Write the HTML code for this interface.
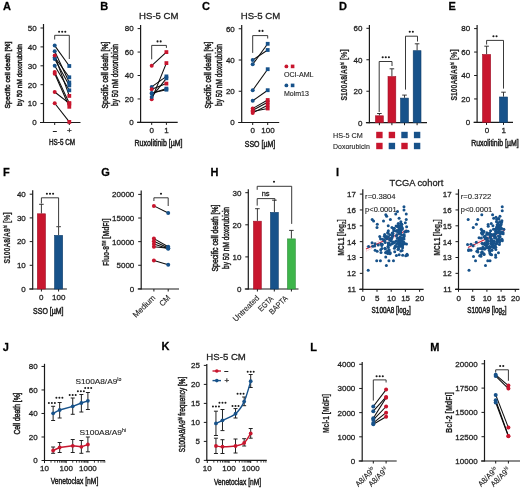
<!DOCTYPE html>
<html><head><meta charset="utf-8"><style>
html,body{margin:0;padding:0;background:#fff;}
svg{display:block;will-change:transform;}
text{stroke:#222;stroke-width:0.28px;paint-order:stroke;}
.h{stroke-width:0.5px;}
.s{stroke-width:0.15px;}
.r{stroke-width:0.12px;}
.b{stroke-width:0.2px;}
svg{font-family:"Liberation Sans",sans-serif;}
</style></head><body>
<svg width="520" height="490" viewBox="0 0 520 490">
<rect width="520" height="490" fill="#fff"/>
<text x="3.00" y="9.70" font-size="11" font-weight="bold" fill="#000" >A</text>
<line x1="43.50" y1="24.00" x2="43.50" y2="123.00" stroke="#1a1a1a" stroke-width="1.2" />
<line x1="40.50" y1="122.50" x2="43.50" y2="122.50" stroke="#1a1a1a" stroke-width="1.0" />
<text x="36.60" y="125.38" font-size="8" text-anchor="end" fill="#222" >0</text>
<line x1="40.50" y1="103.60" x2="43.50" y2="103.60" stroke="#1a1a1a" stroke-width="1.0" />
<text x="36.60" y="106.48" font-size="8" text-anchor="end" fill="#222" >10</text>
<line x1="40.50" y1="84.70" x2="43.50" y2="84.70" stroke="#1a1a1a" stroke-width="1.0" />
<text x="36.60" y="87.58" font-size="8" text-anchor="end" fill="#222" >20</text>
<line x1="40.50" y1="65.80" x2="43.50" y2="65.80" stroke="#1a1a1a" stroke-width="1.0" />
<text x="36.60" y="68.68" font-size="8" text-anchor="end" fill="#222" >30</text>
<line x1="40.50" y1="46.90" x2="43.50" y2="46.90" stroke="#1a1a1a" stroke-width="1.0" />
<text x="36.60" y="49.78" font-size="8" text-anchor="end" fill="#222" >40</text>
<line x1="40.50" y1="28.00" x2="43.50" y2="28.00" stroke="#1a1a1a" stroke-width="1.0" />
<text x="36.60" y="30.88" font-size="8" text-anchor="end" fill="#222" >50</text>
<line x1="40.00" y1="122.50" x2="80.50" y2="122.50" stroke="#1a1a1a" stroke-width="1.2" />
<line x1="54.70" y1="122.50" x2="54.70" y2="125.00" stroke="#1a1a1a" stroke-width="1.0" />
<line x1="69.30" y1="122.50" x2="69.30" y2="125.00" stroke="#1a1a1a" stroke-width="1.0" />
<text x="54.70" y="132.89" font-size="6.5" text-anchor="middle" fill="#222" >–</text>
<text x="69.30" y="133.28" font-size="8" text-anchor="middle" fill="#222" >+</text>
<text x="62.00" y="144.94" font-size="9" text-anchor="middle" textLength="26" lengthAdjust="spacingAndGlyphs" fill="#222"  class="h">HS-5 CM</text>
<text transform="translate(10.35,75.00) rotate(-90)" font-size="8" text-anchor="middle" textLength="67" lengthAdjust="spacingAndGlyphs" fill="#222"  class="h">Specific cell death [%]</text>
<text transform="translate(21.80,75.00) rotate(-90)" font-size="8" text-anchor="middle" textLength="62" lengthAdjust="spacingAndGlyphs" fill="#222"  class="h">by 50 nM doxorubicin</text>
<polyline points="54.70,39.50 54.70,35.30 69.30,35.30 69.30,59.00" fill="none" stroke="#222" stroke-width="0.9" />
<circle cx="59.10" cy="31.80" r="1.05" fill="#1a1a1a"/>
<circle cx="62.20" cy="31.80" r="1.05" fill="#1a1a1a"/>
<circle cx="65.30" cy="31.80" r="1.05" fill="#1a1a1a"/>
<line x1="54.70" y1="45.60" x2="69.30" y2="66.00" stroke="#0a0a0a" stroke-width="1.05" />
<line x1="54.70" y1="51.30" x2="69.30" y2="82.50" stroke="#0a0a0a" stroke-width="1.05" />
<line x1="54.70" y1="59.10" x2="69.30" y2="85.40" stroke="#0a0a0a" stroke-width="1.05" />
<line x1="54.70" y1="65.70" x2="69.30" y2="90.30" stroke="#0a0a0a" stroke-width="1.05" />
<line x1="54.70" y1="57.30" x2="69.30" y2="77.30" stroke="#0a0a0a" stroke-width="1.05" />
<line x1="54.70" y1="55.60" x2="69.30" y2="95.90" stroke="#0a0a0a" stroke-width="1.05" />
<line x1="54.70" y1="72.10" x2="69.30" y2="103.30" stroke="#0a0a0a" stroke-width="1.05" />
<line x1="54.70" y1="73.80" x2="69.30" y2="106.80" stroke="#0a0a0a" stroke-width="1.05" />
<line x1="54.70" y1="92.00" x2="69.30" y2="103.30" stroke="#0a0a0a" stroke-width="1.05" />
<line x1="54.70" y1="103.30" x2="69.30" y2="121.90" stroke="#0a0a0a" stroke-width="1.05" />
<circle cx="54.70" cy="45.60" r="2.0" fill="#17528a"/>
<rect x="67.40" y="64.10" width="3.80" height="3.80" fill="#17528a" stroke="none" stroke-width="0"/>
<circle cx="54.70" cy="51.30" r="2.0" fill="#17528a"/>
<rect x="67.40" y="80.60" width="3.80" height="3.80" fill="#17528a" stroke="none" stroke-width="0"/>
<circle cx="54.70" cy="59.10" r="2.0" fill="#17528a"/>
<rect x="67.40" y="83.50" width="3.80" height="3.80" fill="#17528a" stroke="none" stroke-width="0"/>
<circle cx="54.70" cy="65.70" r="2.0" fill="#17528a"/>
<rect x="67.40" y="88.40" width="3.80" height="3.80" fill="#17528a" stroke="none" stroke-width="0"/>
<circle cx="54.70" cy="57.30" r="2.0" fill="#17528a"/>
<rect x="67.40" y="75.40" width="3.80" height="3.80" fill="#17528a" stroke="none" stroke-width="0"/>
<circle cx="54.70" cy="55.60" r="2.0" fill="#c8162e"/>
<rect x="67.40" y="94.00" width="3.80" height="3.80" fill="#c8162e" stroke="none" stroke-width="0"/>
<circle cx="54.70" cy="72.10" r="2.0" fill="#c8162e"/>
<rect x="67.40" y="101.40" width="3.80" height="3.80" fill="#c8162e" stroke="none" stroke-width="0"/>
<circle cx="54.70" cy="73.80" r="2.0" fill="#c8162e"/>
<rect x="67.40" y="104.90" width="3.80" height="3.80" fill="#c8162e" stroke="none" stroke-width="0"/>
<circle cx="54.70" cy="92.00" r="2.0" fill="#c8162e"/>
<rect x="67.40" y="101.40" width="3.80" height="3.80" fill="#c8162e" stroke="none" stroke-width="0"/>
<circle cx="54.70" cy="103.30" r="2.0" fill="#c8162e"/>
<rect x="67.40" y="120.00" width="3.80" height="3.80" fill="#c8162e" stroke="none" stroke-width="0"/>
<text x="100.30" y="9.70" font-size="11" font-weight="bold" fill="#000" >B</text>
<text x="158.80" y="19.30" font-size="9.6" text-anchor="middle" fill="#222" >HS-5 CM</text>
<line x1="140.60" y1="25.00" x2="140.60" y2="122.90" stroke="#1a1a1a" stroke-width="1.2" />
<line x1="137.60" y1="122.40" x2="140.60" y2="122.40" stroke="#1a1a1a" stroke-width="1.0" />
<text x="133.70" y="125.28" font-size="8" text-anchor="end" fill="#222" >0</text>
<line x1="137.60" y1="98.95" x2="140.60" y2="98.95" stroke="#1a1a1a" stroke-width="1.0" />
<text x="133.70" y="101.83" font-size="8" text-anchor="end" fill="#222" >20</text>
<line x1="137.60" y1="75.50" x2="140.60" y2="75.50" stroke="#1a1a1a" stroke-width="1.0" />
<text x="133.70" y="78.38" font-size="8" text-anchor="end" fill="#222" >40</text>
<line x1="137.60" y1="52.05" x2="140.60" y2="52.05" stroke="#1a1a1a" stroke-width="1.0" />
<text x="133.70" y="54.93" font-size="8" text-anchor="end" fill="#222" >60</text>
<line x1="137.60" y1="28.60" x2="140.60" y2="28.60" stroke="#1a1a1a" stroke-width="1.0" />
<text x="133.70" y="31.48" font-size="8" text-anchor="end" fill="#222" >80</text>
<line x1="137.10" y1="122.40" x2="177.70" y2="122.40" stroke="#1a1a1a" stroke-width="1.2" />
<line x1="151.70" y1="122.40" x2="151.70" y2="124.90" stroke="#1a1a1a" stroke-width="1.0" />
<line x1="166.40" y1="122.40" x2="166.40" y2="124.90" stroke="#1a1a1a" stroke-width="1.0" />
<text x="151.70" y="133.38" font-size="8" text-anchor="middle" fill="#222" >0</text>
<text x="166.40" y="133.38" font-size="8" text-anchor="middle" fill="#222" >1</text>
<text x="158.50" y="146.04" font-size="9" text-anchor="middle" textLength="48" lengthAdjust="spacingAndGlyphs" fill="#222"  class="h">Ruxolitinib [µM]</text>
<text transform="translate(107.80,75.00) rotate(-90)" font-size="9" text-anchor="middle" textLength="67" lengthAdjust="spacingAndGlyphs" fill="#222"  class="h">Specific cell death [%]</text>
<text transform="translate(118.15,75.00) rotate(-90)" font-size="9" text-anchor="middle" textLength="62" lengthAdjust="spacingAndGlyphs" fill="#222"  class="h">by 50 nM doxorubicin</text>
<polyline points="151.70,59.30 151.70,45.40 166.40,45.40 166.40,47.90" fill="none" stroke="#222" stroke-width="0.9" />
<circle cx="157.55" cy="41.40" r="1.05" fill="#1a1a1a"/>
<circle cx="160.65" cy="41.40" r="1.05" fill="#1a1a1a"/>
<line x1="151.70" y1="65.70" x2="166.40" y2="52.10" stroke="#0a0a0a" stroke-width="1.05" />
<line x1="151.70" y1="99.30" x2="166.40" y2="63.10" stroke="#0a0a0a" stroke-width="1.05" />
<line x1="151.70" y1="86.90" x2="166.40" y2="76.40" stroke="#0a0a0a" stroke-width="1.05" />
<line x1="151.70" y1="89.30" x2="166.40" y2="83.60" stroke="#0a0a0a" stroke-width="1.05" />
<line x1="151.70" y1="93.60" x2="166.40" y2="88.60" stroke="#0a0a0a" stroke-width="1.05" />
<line x1="151.70" y1="96.90" x2="166.40" y2="78.30" stroke="#0a0a0a" stroke-width="1.05" />
<line x1="151.70" y1="93.00" x2="166.40" y2="89.70" stroke="#0a0a0a" stroke-width="1.05" />
<circle cx="151.70" cy="65.70" r="2.0" fill="#c8162e"/>
<rect x="164.50" y="50.20" width="3.80" height="3.80" fill="#c8162e" stroke="none" stroke-width="0"/>
<circle cx="151.70" cy="99.30" r="2.0" fill="#c8162e"/>
<rect x="164.50" y="61.20" width="3.80" height="3.80" fill="#c8162e" stroke="none" stroke-width="0"/>
<circle cx="151.70" cy="86.90" r="2.0" fill="#17528a"/>
<rect x="164.50" y="74.50" width="3.80" height="3.80" fill="#17528a" stroke="none" stroke-width="0"/>
<circle cx="151.70" cy="89.30" r="2.0" fill="#c8162e"/>
<rect x="164.50" y="81.70" width="3.80" height="3.80" fill="#c8162e" stroke="none" stroke-width="0"/>
<circle cx="151.70" cy="93.60" r="2.0" fill="#17528a"/>
<rect x="164.50" y="86.70" width="3.80" height="3.80" fill="#17528a" stroke="none" stroke-width="0"/>
<circle cx="151.70" cy="96.90" r="2.0" fill="#17528a"/>
<rect x="164.50" y="76.40" width="3.80" height="3.80" fill="#17528a" stroke="none" stroke-width="0"/>
<circle cx="151.70" cy="93.00" r="2.0" fill="#17528a"/>
<rect x="164.50" y="87.80" width="3.80" height="3.80" fill="#17528a" stroke="none" stroke-width="0"/>
<text x="202.00" y="9.70" font-size="11" font-weight="bold" fill="#000" >C</text>
<text x="260.50" y="19.30" font-size="9.6" text-anchor="middle" fill="#222" >HS-5 CM</text>
<line x1="241.70" y1="25.00" x2="241.70" y2="123.00" stroke="#1a1a1a" stroke-width="1.2" />
<line x1="238.70" y1="122.50" x2="241.70" y2="122.50" stroke="#1a1a1a" stroke-width="1.0" />
<text x="234.80" y="125.38" font-size="8" text-anchor="end" fill="#222" >0</text>
<line x1="238.70" y1="91.25" x2="241.70" y2="91.25" stroke="#1a1a1a" stroke-width="1.0" />
<text x="234.80" y="94.13" font-size="8" text-anchor="end" fill="#222" >20</text>
<line x1="238.70" y1="60.00" x2="241.70" y2="60.00" stroke="#1a1a1a" stroke-width="1.0" />
<text x="234.80" y="62.88" font-size="8" text-anchor="end" fill="#222" >40</text>
<line x1="238.70" y1="28.75" x2="241.70" y2="28.75" stroke="#1a1a1a" stroke-width="1.0" />
<text x="234.80" y="31.63" font-size="8" text-anchor="end" fill="#222" >60</text>
<line x1="238.20" y1="122.50" x2="279.20" y2="122.50" stroke="#1a1a1a" stroke-width="1.2" />
<line x1="252.70" y1="122.50" x2="252.70" y2="125.00" stroke="#1a1a1a" stroke-width="1.0" />
<line x1="267.70" y1="122.50" x2="267.70" y2="125.00" stroke="#1a1a1a" stroke-width="1.0" />
<text x="252.70" y="133.38" font-size="8" text-anchor="middle" fill="#222" >0</text>
<text x="268.00" y="133.38" font-size="8" text-anchor="middle" fill="#222" >100</text>
<text x="260.00" y="146.54" font-size="9" text-anchor="middle" textLength="30.4" lengthAdjust="spacingAndGlyphs" fill="#222"  class="h">SSO [µM]</text>
<text transform="translate(211.00,75.00) rotate(-90)" font-size="9" text-anchor="middle" textLength="67" lengthAdjust="spacingAndGlyphs" fill="#222"  class="h">Specific cell death [%]</text>
<text transform="translate(222.10,75.00) rotate(-90)" font-size="9" text-anchor="middle" textLength="62" lengthAdjust="spacingAndGlyphs" fill="#222"  class="h">by 50 nM doxorubicin</text>
<polyline points="252.70,52.90 252.70,35.60 267.70,35.60 267.70,38.50" fill="none" stroke="#222" stroke-width="0.9" />
<circle cx="259.45" cy="30.90" r="1.05" fill="#1a1a1a"/>
<circle cx="262.55" cy="30.90" r="1.05" fill="#1a1a1a"/>
<line x1="252.70" y1="60.00" x2="267.70" y2="50.00" stroke="#0a0a0a" stroke-width="1.05" />
<line x1="252.70" y1="64.30" x2="267.70" y2="43.80" stroke="#0a0a0a" stroke-width="1.05" />
<line x1="252.70" y1="90.20" x2="267.70" y2="69.20" stroke="#0a0a0a" stroke-width="1.05" />
<line x1="252.70" y1="100.80" x2="267.70" y2="90.20" stroke="#0a0a0a" stroke-width="1.05" />
<line x1="252.70" y1="108.50" x2="267.70" y2="100.00" stroke="#0a0a0a" stroke-width="1.05" />
<line x1="252.70" y1="110.40" x2="267.70" y2="102.30" stroke="#0a0a0a" stroke-width="1.05" />
<line x1="252.70" y1="112.90" x2="267.70" y2="105.20" stroke="#0a0a0a" stroke-width="1.05" />
<line x1="252.70" y1="111.50" x2="267.70" y2="108.50" stroke="#0a0a0a" stroke-width="1.05" />
<circle cx="252.70" cy="60.00" r="2.0" fill="#17528a"/>
<rect x="265.80" y="48.10" width="3.80" height="3.80" fill="#17528a" stroke="none" stroke-width="0"/>
<circle cx="252.70" cy="64.30" r="2.0" fill="#17528a"/>
<rect x="265.80" y="41.90" width="3.80" height="3.80" fill="#17528a" stroke="none" stroke-width="0"/>
<circle cx="252.70" cy="90.20" r="2.0" fill="#17528a"/>
<rect x="265.80" y="67.30" width="3.80" height="3.80" fill="#17528a" stroke="none" stroke-width="0"/>
<circle cx="252.70" cy="100.80" r="2.0" fill="#17528a"/>
<rect x="265.80" y="88.30" width="3.80" height="3.80" fill="#17528a" stroke="none" stroke-width="0"/>
<circle cx="252.70" cy="108.50" r="2.0" fill="#c8162e"/>
<rect x="265.80" y="98.10" width="3.80" height="3.80" fill="#c8162e" stroke="none" stroke-width="0"/>
<circle cx="252.70" cy="110.40" r="2.0" fill="#c8162e"/>
<rect x="265.80" y="100.40" width="3.80" height="3.80" fill="#c8162e" stroke="none" stroke-width="0"/>
<circle cx="252.70" cy="112.90" r="2.0" fill="#c8162e"/>
<rect x="265.80" y="103.30" width="3.80" height="3.80" fill="#c8162e" stroke="none" stroke-width="0"/>
<circle cx="252.70" cy="111.50" r="2.0" fill="#c8162e"/>
<rect x="265.80" y="106.60" width="3.80" height="3.80" fill="#c8162e" stroke="none" stroke-width="0"/>
<circle cx="286.40" cy="66.40" r="1.9" fill="#c8162e"/>
<rect x="290.80" y="64.60" width="3.60" height="3.60" fill="#c8162e" stroke="none" stroke-width="0"/>
<text x="283.90" y="77.20" font-size="7" textLength="29.7" lengthAdjust="spacingAndGlyphs" fill="#222" class="r">OCI-AML</text>
<circle cx="286.40" cy="85.40" r="1.9" fill="#17528a"/>
<rect x="290.80" y="83.60" width="3.60" height="3.60" fill="#17528a" stroke="none" stroke-width="0"/>
<text x="283.90" y="96.10" font-size="7" textLength="25" lengthAdjust="spacingAndGlyphs" fill="#222" class="r">Molm13</text>
<text x="339.00" y="9.70" font-size="11" font-weight="bold" fill="#000" >D</text>
<line x1="369.40" y1="25.00" x2="369.40" y2="123.20" stroke="#1a1a1a" stroke-width="1.2" />
<line x1="366.40" y1="122.70" x2="369.40" y2="122.70" stroke="#1a1a1a" stroke-width="1.0" />
<text x="362.50" y="125.58" font-size="8" text-anchor="end" fill="#222" >0</text>
<line x1="366.40" y1="91.24" x2="369.40" y2="91.24" stroke="#1a1a1a" stroke-width="1.0" />
<text x="362.50" y="94.12" font-size="8" text-anchor="end" fill="#222" >20</text>
<line x1="366.40" y1="59.78" x2="369.40" y2="59.78" stroke="#1a1a1a" stroke-width="1.0" />
<text x="362.50" y="62.66" font-size="8" text-anchor="end" fill="#222" >40</text>
<line x1="366.40" y1="28.32" x2="369.40" y2="28.32" stroke="#1a1a1a" stroke-width="1.0" />
<text x="362.50" y="31.20" font-size="8" text-anchor="end" fill="#222" >60</text>
<line x1="365.90" y1="122.70" x2="427.00" y2="122.70" stroke="#1a1a1a" stroke-width="1.2" />
<line x1="379.40" y1="122.70" x2="379.40" y2="125.20" stroke="#1a1a1a" stroke-width="1.0" />
<line x1="391.90" y1="122.70" x2="391.90" y2="125.20" stroke="#1a1a1a" stroke-width="1.0" />
<line x1="404.50" y1="122.70" x2="404.50" y2="125.20" stroke="#1a1a1a" stroke-width="1.0" />
<line x1="417.10" y1="122.70" x2="417.10" y2="125.20" stroke="#1a1a1a" stroke-width="1.0" />
<line x1="379.40" y1="113.50" x2="379.40" y2="115.50" stroke="#222" stroke-width="0.9" />
<line x1="377.10" y1="113.50" x2="381.70" y2="113.50" stroke="#222" stroke-width="0.9" />
<rect x="375.50" y="115.80" width="7.80" height="6.90" fill="#c8162e" stroke="#9e0f26" stroke-width="0.6"/>
<line x1="391.90" y1="68.80" x2="391.90" y2="76.30" stroke="#222" stroke-width="0.9" />
<line x1="389.60" y1="68.80" x2="394.20" y2="68.80" stroke="#222" stroke-width="0.9" />
<rect x="388.00" y="76.60" width="7.80" height="46.10" fill="#c8162e" stroke="#9e0f26" stroke-width="0.6"/>
<line x1="404.50" y1="95.10" x2="404.50" y2="97.80" stroke="#222" stroke-width="0.9" />
<line x1="402.20" y1="95.10" x2="406.80" y2="95.10" stroke="#222" stroke-width="0.9" />
<rect x="400.60" y="98.10" width="7.80" height="24.60" fill="#17528a" stroke="#0e3d69" stroke-width="0.6"/>
<line x1="417.10" y1="43.80" x2="417.10" y2="50.40" stroke="#222" stroke-width="0.9" />
<line x1="414.80" y1="43.80" x2="419.40" y2="43.80" stroke="#222" stroke-width="0.9" />
<rect x="413.20" y="50.70" width="7.80" height="72.00" fill="#17528a" stroke="#0e3d69" stroke-width="0.6"/>
<polyline points="379.20,112.00 379.20,61.50 392.00,61.50 392.00,66.00" fill="none" stroke="#222" stroke-width="0.9" />
<circle cx="382.70" cy="57.30" r="1.05" fill="#1a1a1a"/>
<circle cx="385.80" cy="57.30" r="1.05" fill="#1a1a1a"/>
<circle cx="388.90" cy="57.30" r="1.05" fill="#1a1a1a"/>
<polyline points="405.50,89.60 405.50,36.20 417.50,36.20 417.50,41.50" fill="none" stroke="#222" stroke-width="0.9" />
<circle cx="409.75" cy="31.80" r="1.05" fill="#1a1a1a"/>
<circle cx="412.85" cy="31.80" r="1.05" fill="#1a1a1a"/>
<rect x="376.20" y="131.80" width="6.40" height="6.40" fill="#c8162e" stroke="none" stroke-width="0"/>
<rect x="388.70" y="131.80" width="6.40" height="6.40" fill="#c8162e" stroke="none" stroke-width="0"/>
<rect x="401.30" y="131.80" width="6.40" height="6.40" fill="#17528a" stroke="none" stroke-width="0"/>
<rect x="413.90" y="131.80" width="6.40" height="6.40" fill="#17528a" stroke="none" stroke-width="0"/>
<rect x="376.20" y="142.80" width="6.40" height="6.40" fill="#c8162e" stroke="none" stroke-width="0"/>
<rect x="388.70" y="142.80" width="6.40" height="6.40" fill="#17528a" stroke="none" stroke-width="0"/>
<rect x="401.30" y="142.80" width="6.40" height="6.40" fill="#c8162e" stroke="none" stroke-width="0"/>
<rect x="413.90" y="142.80" width="6.40" height="6.40" fill="#17528a" stroke="none" stroke-width="0"/>
<text x="333.00" y="137.90" font-size="8" textLength="29.7" lengthAdjust="spacingAndGlyphs" fill="#222" class="r">HS-5 CM</text>
<text x="333.00" y="149.40" font-size="8" textLength="36.8" lengthAdjust="spacingAndGlyphs" fill="#222" class="r">Doxorubicin</text>
<text transform="translate(346.75,75.00) rotate(-90)" font-size="9" text-anchor="middle" font-weight="bold" textLength="51" lengthAdjust="spacingAndGlyphs" fill="#222"  class="b">S100A8/A9<tspan font-size="5" dy="-3">hi</tspan><tspan dy="3"> [%]</tspan></text>
<text x="448.50" y="9.70" font-size="11" font-weight="bold" fill="#000" >E</text>
<line x1="477.10" y1="25.00" x2="477.10" y2="122.90" stroke="#1a1a1a" stroke-width="1.2" />
<line x1="474.10" y1="122.40" x2="477.10" y2="122.40" stroke="#1a1a1a" stroke-width="1.0" />
<text x="470.20" y="125.28" font-size="8" text-anchor="end" fill="#222" >0</text>
<line x1="474.10" y1="98.95" x2="477.10" y2="98.95" stroke="#1a1a1a" stroke-width="1.0" />
<text x="470.20" y="101.83" font-size="8" text-anchor="end" fill="#222" >20</text>
<line x1="474.10" y1="75.50" x2="477.10" y2="75.50" stroke="#1a1a1a" stroke-width="1.0" />
<text x="470.20" y="78.38" font-size="8" text-anchor="end" fill="#222" >40</text>
<line x1="474.10" y1="52.05" x2="477.10" y2="52.05" stroke="#1a1a1a" stroke-width="1.0" />
<text x="470.20" y="54.93" font-size="8" text-anchor="end" fill="#222" >60</text>
<line x1="474.10" y1="28.60" x2="477.10" y2="28.60" stroke="#1a1a1a" stroke-width="1.0" />
<text x="470.20" y="31.48" font-size="8" text-anchor="end" fill="#222" >80</text>
<line x1="473.60" y1="122.40" x2="513.00" y2="122.40" stroke="#1a1a1a" stroke-width="1.2" />
<line x1="486.50" y1="122.40" x2="486.50" y2="124.90" stroke="#1a1a1a" stroke-width="1.0" />
<line x1="503.50" y1="122.40" x2="503.50" y2="124.90" stroke="#1a1a1a" stroke-width="1.0" />
<line x1="486.60" y1="46.20" x2="486.60" y2="54.20" stroke="#222" stroke-width="0.9" />
<line x1="484.30" y1="46.20" x2="488.90" y2="46.20" stroke="#222" stroke-width="0.9" />
<rect x="482.55" y="54.50" width="8.10" height="67.90" fill="#c8162e" stroke="#9e0f26" stroke-width="0.6"/>
<line x1="503.50" y1="92.20" x2="503.50" y2="96.70" stroke="#222" stroke-width="0.9" />
<line x1="501.20" y1="92.20" x2="505.80" y2="92.20" stroke="#222" stroke-width="0.9" />
<rect x="499.45" y="97.00" width="8.10" height="25.40" fill="#17528a" stroke="#0e3d69" stroke-width="0.6"/>
<polyline points="486.60,44.50 486.60,40.40 503.50,40.40 503.50,88.60" fill="none" stroke="#222" stroke-width="0.9" />
<circle cx="493.45" cy="36.20" r="1.05" fill="#1a1a1a"/>
<circle cx="496.55" cy="36.20" r="1.05" fill="#1a1a1a"/>
<text x="487.00" y="133.38" font-size="8" text-anchor="middle" fill="#222" >0</text>
<text x="503.70" y="133.38" font-size="8" text-anchor="middle" fill="#222" >1</text>
<text x="494.90" y="146.34" font-size="9" text-anchor="middle" textLength="47.5" lengthAdjust="spacingAndGlyphs" fill="#222"  class="h">Ruxolitinib [µM]</text>
<text transform="translate(456.75,75.00) rotate(-90)" font-size="9" text-anchor="middle" font-weight="bold" textLength="51" lengthAdjust="spacingAndGlyphs" fill="#222"  class="b">S100A8/A9<tspan font-size="5" dy="-3">hi</tspan><tspan dy="3"> [%]</tspan></text>
<text x="3.00" y="175.90" font-size="11" font-weight="bold" fill="#000" >F</text>
<line x1="32.70" y1="190.20" x2="32.70" y2="289.50" stroke="#1a1a1a" stroke-width="1.2" />
<line x1="29.70" y1="289.00" x2="32.70" y2="289.00" stroke="#1a1a1a" stroke-width="1.0" />
<text x="25.80" y="291.88" font-size="8" text-anchor="end" fill="#222" >0</text>
<line x1="29.70" y1="265.30" x2="32.70" y2="265.30" stroke="#1a1a1a" stroke-width="1.0" />
<text x="25.80" y="268.18" font-size="8" text-anchor="end" fill="#222" >10</text>
<line x1="29.70" y1="241.60" x2="32.70" y2="241.60" stroke="#1a1a1a" stroke-width="1.0" />
<text x="25.80" y="244.48" font-size="8" text-anchor="end" fill="#222" >20</text>
<line x1="29.70" y1="217.90" x2="32.70" y2="217.90" stroke="#1a1a1a" stroke-width="1.0" />
<text x="25.80" y="220.78" font-size="8" text-anchor="end" fill="#222" >30</text>
<line x1="29.70" y1="194.20" x2="32.70" y2="194.20" stroke="#1a1a1a" stroke-width="1.0" />
<text x="25.80" y="197.08" font-size="8" text-anchor="end" fill="#222" >40</text>
<line x1="29.20" y1="289.00" x2="66.90" y2="289.00" stroke="#1a1a1a" stroke-width="1.2" />
<line x1="41.40" y1="289.00" x2="41.40" y2="291.50" stroke="#1a1a1a" stroke-width="1.0" />
<line x1="58.60" y1="289.00" x2="58.60" y2="291.50" stroke="#1a1a1a" stroke-width="1.0" />
<line x1="41.40" y1="204.30" x2="41.40" y2="213.50" stroke="#222" stroke-width="0.9" />
<line x1="39.10" y1="204.30" x2="43.70" y2="204.30" stroke="#222" stroke-width="0.9" />
<rect x="37.35" y="213.80" width="8.10" height="75.20" fill="#c8162e" stroke="#9e0f26" stroke-width="0.6"/>
<line x1="58.60" y1="226.70" x2="58.60" y2="235.10" stroke="#222" stroke-width="0.9" />
<line x1="56.30" y1="226.70" x2="60.90" y2="226.70" stroke="#222" stroke-width="0.9" />
<rect x="54.55" y="235.40" width="8.10" height="53.60" fill="#17528a" stroke="#0e3d69" stroke-width="0.6"/>
<polyline points="41.40,203.50 41.40,197.80 58.60,197.80 58.60,226.00" fill="none" stroke="#222" stroke-width="0.9" />
<circle cx="46.90" cy="193.70" r="1.05" fill="#1a1a1a"/>
<circle cx="50.00" cy="193.70" r="1.05" fill="#1a1a1a"/>
<circle cx="53.10" cy="193.70" r="1.05" fill="#1a1a1a"/>
<text x="41.30" y="299.98" font-size="8" text-anchor="middle" fill="#222" >0</text>
<text x="58.70" y="299.98" font-size="8" text-anchor="middle" fill="#222" >100</text>
<text x="48.30" y="313.64" font-size="9" text-anchor="middle" textLength="30.5" lengthAdjust="spacingAndGlyphs" fill="#222"  class="h">SSO [µM]</text>
<text transform="translate(9.55,238.00) rotate(-90)" font-size="9" text-anchor="middle" font-weight="bold" textLength="51" lengthAdjust="spacingAndGlyphs" fill="#222"  class="b">S100A8/A9<tspan font-size="5" dy="-3">hi</tspan><tspan dy="3"> [%]</tspan></text>
<text x="101.20" y="176.30" font-size="11" font-weight="bold" fill="#000" >G</text>
<line x1="141.20" y1="190.60" x2="141.20" y2="289.50" stroke="#1a1a1a" stroke-width="1.2" />
<line x1="138.20" y1="288.90" x2="141.20" y2="288.90" stroke="#1a1a1a" stroke-width="1.0" />
<text x="134.30" y="291.78" font-size="8" text-anchor="end" fill="#222" >0</text>
<line x1="138.20" y1="265.27" x2="141.20" y2="265.27" stroke="#1a1a1a" stroke-width="1.0" />
<text x="134.30" y="268.15" font-size="8" text-anchor="end" fill="#222" >5000</text>
<line x1="138.20" y1="241.65" x2="141.20" y2="241.65" stroke="#1a1a1a" stroke-width="1.0" />
<text x="134.30" y="244.53" font-size="8" text-anchor="end" fill="#222" >10000</text>
<line x1="138.20" y1="218.02" x2="141.20" y2="218.02" stroke="#1a1a1a" stroke-width="1.0" />
<text x="134.30" y="220.90" font-size="8" text-anchor="end" fill="#222" >15000</text>
<line x1="138.20" y1="194.40" x2="141.20" y2="194.40" stroke="#1a1a1a" stroke-width="1.0" />
<text x="134.30" y="197.28" font-size="8" text-anchor="end" fill="#222" >20000</text>
<line x1="137.70" y1="289.00" x2="179.00" y2="289.00" stroke="#1a1a1a" stroke-width="1.2" />
<line x1="153.90" y1="289.00" x2="153.90" y2="291.50" stroke="#1a1a1a" stroke-width="1.0" />
<line x1="168.20" y1="289.00" x2="168.20" y2="291.50" stroke="#1a1a1a" stroke-width="1.0" />
<polyline points="153.90,201.00 153.90,197.80 168.20,197.80 168.20,206.00" fill="none" stroke="#222" stroke-width="0.9" />
<circle cx="161.00" cy="193.70" r="1.05" fill="#1a1a1a"/>
<line x1="153.90" y1="205.90" x2="168.20" y2="213.00" stroke="#0a0a0a" stroke-width="1.05" />
<line x1="153.90" y1="238.60" x2="168.20" y2="246.70" stroke="#0a0a0a" stroke-width="1.05" />
<line x1="153.90" y1="241.20" x2="168.20" y2="248.00" stroke="#0a0a0a" stroke-width="1.05" />
<line x1="153.90" y1="243.90" x2="168.20" y2="248.80" stroke="#0a0a0a" stroke-width="1.05" />
<line x1="153.90" y1="246.70" x2="168.20" y2="248.20" stroke="#0a0a0a" stroke-width="1.05" />
<line x1="153.90" y1="260.60" x2="168.20" y2="264.70" stroke="#0a0a0a" stroke-width="1.05" />
<circle cx="153.90" cy="205.90" r="2.0" fill="#c8162e"/>
<circle cx="168.20" cy="213.00" r="2.0" fill="#17528a"/>
<circle cx="153.90" cy="238.60" r="2.0" fill="#c8162e"/>
<circle cx="168.20" cy="246.70" r="2.0" fill="#17528a"/>
<circle cx="153.90" cy="241.20" r="2.0" fill="#c8162e"/>
<circle cx="168.20" cy="248.00" r="2.0" fill="#17528a"/>
<circle cx="153.90" cy="243.90" r="2.0" fill="#c8162e"/>
<circle cx="168.20" cy="248.80" r="2.0" fill="#17528a"/>
<circle cx="153.90" cy="246.70" r="2.0" fill="#c8162e"/>
<circle cx="168.20" cy="248.20" r="2.0" fill="#17528a"/>
<circle cx="153.90" cy="260.60" r="2.0" fill="#c8162e"/>
<circle cx="168.20" cy="264.70" r="2.0" fill="#17528a"/>
<text transform="translate(155.90,298.30) rotate(-45)" font-size="8" text-anchor="end" textLength="28" lengthAdjust="spacingAndGlyphs" fill="#222"  class="r">Medium</text>
<text transform="translate(170.90,298.30) rotate(-45)" font-size="8" text-anchor="end" textLength="12" lengthAdjust="spacingAndGlyphs" fill="#222"  class="r">CM</text>
<text transform="translate(108.55,242.30) rotate(-90)" font-size="9" text-anchor="middle" font-weight="bold" textLength="47.5" lengthAdjust="spacingAndGlyphs" fill="#222"  class="b">Fluo-8<tspan font-size="5" dy="-3">TM</tspan><tspan dy="3"> [MdFI]</tspan></text>
<text x="210.60" y="176.30" font-size="11" font-weight="bold" fill="#000" >H</text>
<line x1="248.30" y1="189.30" x2="248.30" y2="289.50" stroke="#1a1a1a" stroke-width="1.2" />
<line x1="245.30" y1="289.00" x2="248.30" y2="289.00" stroke="#1a1a1a" stroke-width="1.0" />
<text x="241.40" y="291.88" font-size="8" text-anchor="end" fill="#222" >0</text>
<line x1="245.30" y1="256.90" x2="248.30" y2="256.90" stroke="#1a1a1a" stroke-width="1.0" />
<text x="241.40" y="259.78" font-size="8" text-anchor="end" fill="#222" >10</text>
<line x1="245.30" y1="224.80" x2="248.30" y2="224.80" stroke="#1a1a1a" stroke-width="1.0" />
<text x="241.40" y="227.68" font-size="8" text-anchor="end" fill="#222" >20</text>
<line x1="245.30" y1="192.70" x2="248.30" y2="192.70" stroke="#1a1a1a" stroke-width="1.0" />
<text x="241.40" y="195.58" font-size="8" text-anchor="end" fill="#222" >30</text>
<line x1="244.80" y1="289.00" x2="298.50" y2="289.00" stroke="#1a1a1a" stroke-width="1.2" />
<line x1="257.40" y1="289.00" x2="257.40" y2="291.50" stroke="#1a1a1a" stroke-width="1.0" />
<line x1="274.30" y1="289.00" x2="274.30" y2="291.50" stroke="#1a1a1a" stroke-width="1.0" />
<line x1="291.40" y1="289.00" x2="291.40" y2="291.50" stroke="#1a1a1a" stroke-width="1.0" />
<line x1="257.40" y1="208.70" x2="257.40" y2="220.90" stroke="#222" stroke-width="0.9" />
<line x1="255.10" y1="208.70" x2="259.70" y2="208.70" stroke="#222" stroke-width="0.9" />
<rect x="253.50" y="221.20" width="7.80" height="67.80" fill="#c8162e" stroke="#9e0f26" stroke-width="0.6"/>
<line x1="274.40" y1="200.20" x2="274.40" y2="212.10" stroke="#222" stroke-width="0.9" />
<line x1="272.10" y1="200.20" x2="276.70" y2="200.20" stroke="#222" stroke-width="0.9" />
<rect x="270.50" y="212.40" width="7.80" height="76.60" fill="#17528a" stroke="#0e3d69" stroke-width="0.6"/>
<line x1="291.40" y1="230.40" x2="291.40" y2="238.60" stroke="#222" stroke-width="0.9" />
<line x1="289.10" y1="230.40" x2="293.70" y2="230.40" stroke="#222" stroke-width="0.9" />
<rect x="287.50" y="238.90" width="7.80" height="50.10" fill="#3db54a" stroke="#2a8a36" stroke-width="0.6"/>
<polyline points="257.20,189.80 257.20,186.30 291.70,186.30 291.70,223.90" fill="none" stroke="#222" stroke-width="0.9" />
<circle cx="274.00" cy="181.80" r="1.05" fill="#1a1a1a"/>
<polyline points="257.20,205.60 257.20,198.60 274.90,198.60 274.90,200.70" fill="none" stroke="#222" stroke-width="0.9" />
<text x="265.60" y="196.30" font-size="7.5" text-anchor="middle" fill="#222" >ns</text>
<text transform="translate(259.70,298.40) rotate(-45)" font-size="8" text-anchor="end" textLength="33.5" lengthAdjust="spacingAndGlyphs" fill="#222"  class="r">Untreated</text>
<text transform="translate(274.00,299.20) rotate(-45)" font-size="8" text-anchor="end" textLength="18" lengthAdjust="spacingAndGlyphs" fill="#222"  class="r">EGTA</text>
<text transform="translate(288.20,299.00) rotate(-45)" font-size="8" text-anchor="end" textLength="22.5" lengthAdjust="spacingAndGlyphs" fill="#222"  class="r">BAPTA</text>
<text transform="translate(218.05,238.00) rotate(-90)" font-size="9" text-anchor="middle" textLength="67" lengthAdjust="spacingAndGlyphs" fill="#222"  class="h">Specific cell death [%]</text>
<text transform="translate(229.45,238.00) rotate(-90)" font-size="9" text-anchor="middle" textLength="62" lengthAdjust="spacingAndGlyphs" fill="#222"  class="h">by 50 nM doxorubicin</text>
<text x="336.00" y="176.20" font-size="11" font-weight="bold" fill="#000" >I</text>
<text x="416.40" y="186.30" font-size="9.3" text-anchor="middle" fill="#222" >TCGA cohort</text>
<line x1="362.80" y1="189.20" x2="362.80" y2="289.80" stroke="#1a1a1a" stroke-width="1.2" />
<line x1="359.80" y1="289.20" x2="362.80" y2="289.20" stroke="#1a1a1a" stroke-width="1.0" />
<text x="355.90" y="292.08" font-size="8" text-anchor="end" fill="#222" >11</text>
<line x1="359.80" y1="273.35" x2="362.80" y2="273.35" stroke="#1a1a1a" stroke-width="1.0" />
<text x="355.90" y="276.23" font-size="8" text-anchor="end" fill="#222" >12</text>
<line x1="359.80" y1="257.50" x2="362.80" y2="257.50" stroke="#1a1a1a" stroke-width="1.0" />
<text x="355.90" y="260.38" font-size="8" text-anchor="end" fill="#222" >13</text>
<line x1="359.80" y1="241.65" x2="362.80" y2="241.65" stroke="#1a1a1a" stroke-width="1.0" />
<text x="355.90" y="244.53" font-size="8" text-anchor="end" fill="#222" >14</text>
<line x1="359.80" y1="225.80" x2="362.80" y2="225.80" stroke="#1a1a1a" stroke-width="1.0" />
<text x="355.90" y="228.68" font-size="8" text-anchor="end" fill="#222" >15</text>
<line x1="359.80" y1="209.95" x2="362.80" y2="209.95" stroke="#1a1a1a" stroke-width="1.0" />
<text x="355.90" y="212.83" font-size="8" text-anchor="end" fill="#222" >16</text>
<line x1="359.80" y1="194.10" x2="362.80" y2="194.10" stroke="#1a1a1a" stroke-width="1.0" />
<text x="355.90" y="196.98" font-size="8" text-anchor="end" fill="#222" >17</text>
<line x1="359.30" y1="289.30" x2="423.60" y2="289.30" stroke="#1a1a1a" stroke-width="1.2" />
<line x1="362.80" y1="289.30" x2="362.80" y2="291.80" stroke="#1a1a1a" stroke-width="1.0" />
<line x1="377.00" y1="289.30" x2="377.00" y2="291.80" stroke="#1a1a1a" stroke-width="1.0" />
<line x1="391.20" y1="289.30" x2="391.20" y2="291.80" stroke="#1a1a1a" stroke-width="1.0" />
<line x1="405.40" y1="289.30" x2="405.40" y2="291.80" stroke="#1a1a1a" stroke-width="1.0" />
<line x1="419.60" y1="289.30" x2="419.60" y2="291.80" stroke="#1a1a1a" stroke-width="1.0" />
<text x="363.00" y="300.58" font-size="8" text-anchor="middle" fill="#222" >0</text>
<text x="377.20" y="300.58" font-size="8" text-anchor="middle" fill="#222" >5</text>
<text x="391.40" y="300.58" font-size="8" text-anchor="middle" fill="#222" >10</text>
<text x="405.60" y="300.58" font-size="8" text-anchor="middle" fill="#222" >15</text>
<text x="419.80" y="300.58" font-size="8" text-anchor="middle" fill="#222" >20</text>
<line x1="366.00" y1="246.80" x2="407.00" y2="228.60" stroke="#e58a98" stroke-width="0.6" stroke-dasharray="1.5,1"/>
<line x1="366.00" y1="251.20" x2="407.00" y2="231.80" stroke="#e58a98" stroke-width="0.6" stroke-dasharray="1.5,1"/>
<line x1="366.00" y1="249.00" x2="407.00" y2="230.20" stroke="#d2233c" stroke-width="1.1" />
<circle cx="400.87" cy="221.84" r="1.5" fill="#17528a"/>
<circle cx="397.66" cy="226.50" r="1.5" fill="#17528a"/>
<circle cx="399.76" cy="239.50" r="1.5" fill="#17528a"/>
<circle cx="406.51" cy="231.07" r="1.5" fill="#17528a"/>
<circle cx="400.44" cy="227.95" r="1.5" fill="#17528a"/>
<circle cx="404.09" cy="234.52" r="1.5" fill="#17528a"/>
<circle cx="402.41" cy="246.08" r="1.5" fill="#17528a"/>
<circle cx="399.43" cy="241.67" r="1.5" fill="#17528a"/>
<circle cx="396.41" cy="255.40" r="1.5" fill="#17528a"/>
<circle cx="395.49" cy="241.58" r="1.5" fill="#17528a"/>
<circle cx="400.03" cy="240.01" r="1.5" fill="#17528a"/>
<circle cx="400.79" cy="251.05" r="1.5" fill="#17528a"/>
<circle cx="400.32" cy="233.55" r="1.5" fill="#17528a"/>
<circle cx="402.92" cy="244.36" r="1.5" fill="#17528a"/>
<circle cx="396.14" cy="226.10" r="1.5" fill="#17528a"/>
<circle cx="393.69" cy="230.86" r="1.5" fill="#17528a"/>
<circle cx="401.60" cy="239.07" r="1.5" fill="#17528a"/>
<circle cx="402.01" cy="229.36" r="1.5" fill="#17528a"/>
<circle cx="403.84" cy="236.91" r="1.5" fill="#17528a"/>
<circle cx="398.72" cy="243.94" r="1.5" fill="#17528a"/>
<circle cx="397.49" cy="238.30" r="1.5" fill="#17528a"/>
<circle cx="398.12" cy="225.39" r="1.5" fill="#17528a"/>
<circle cx="394.73" cy="251.64" r="1.5" fill="#17528a"/>
<circle cx="399.69" cy="242.51" r="1.5" fill="#17528a"/>
<circle cx="405.75" cy="255.67" r="1.5" fill="#17528a"/>
<circle cx="403.92" cy="242.52" r="1.5" fill="#17528a"/>
<circle cx="400.09" cy="243.94" r="1.5" fill="#17528a"/>
<circle cx="402.57" cy="247.84" r="1.5" fill="#17528a"/>
<circle cx="400.33" cy="232.25" r="1.5" fill="#17528a"/>
<circle cx="405.34" cy="222.79" r="1.5" fill="#17528a"/>
<circle cx="399.06" cy="233.49" r="1.5" fill="#17528a"/>
<circle cx="399.12" cy="218.32" r="1.5" fill="#17528a"/>
<circle cx="401.23" cy="238.18" r="1.5" fill="#17528a"/>
<circle cx="399.86" cy="238.75" r="1.5" fill="#17528a"/>
<circle cx="400.02" cy="246.32" r="1.5" fill="#17528a"/>
<circle cx="407.00" cy="254.14" r="1.5" fill="#17528a"/>
<circle cx="389.31" cy="243.66" r="1.5" fill="#17528a"/>
<circle cx="400.11" cy="232.15" r="1.5" fill="#17528a"/>
<circle cx="399.93" cy="238.12" r="1.5" fill="#17528a"/>
<circle cx="401.61" cy="224.61" r="1.5" fill="#17528a"/>
<circle cx="399.17" cy="241.08" r="1.5" fill="#17528a"/>
<circle cx="406.63" cy="226.80" r="1.5" fill="#17528a"/>
<circle cx="397.49" cy="211.57" r="1.5" fill="#17528a"/>
<circle cx="403.00" cy="241.42" r="1.5" fill="#17528a"/>
<circle cx="396.90" cy="234.75" r="1.5" fill="#17528a"/>
<circle cx="397.97" cy="249.46" r="1.5" fill="#17528a"/>
<circle cx="396.52" cy="244.03" r="1.5" fill="#17528a"/>
<circle cx="404.03" cy="239.10" r="1.5" fill="#17528a"/>
<circle cx="396.04" cy="231.04" r="1.5" fill="#17528a"/>
<circle cx="400.78" cy="226.47" r="1.5" fill="#17528a"/>
<circle cx="404.33" cy="235.95" r="1.5" fill="#17528a"/>
<circle cx="400.12" cy="236.86" r="1.5" fill="#17528a"/>
<circle cx="397.03" cy="230.50" r="1.5" fill="#17528a"/>
<circle cx="404.86" cy="231.79" r="1.5" fill="#17528a"/>
<circle cx="399.83" cy="239.44" r="1.5" fill="#17528a"/>
<circle cx="398.13" cy="246.51" r="1.5" fill="#17528a"/>
<circle cx="399.32" cy="246.29" r="1.5" fill="#17528a"/>
<circle cx="399.21" cy="254.65" r="1.5" fill="#17528a"/>
<circle cx="401.67" cy="234.95" r="1.5" fill="#17528a"/>
<circle cx="400.55" cy="223.66" r="1.5" fill="#17528a"/>
<circle cx="398.28" cy="242.81" r="1.5" fill="#17528a"/>
<circle cx="398.80" cy="229.70" r="1.5" fill="#17528a"/>
<circle cx="397.71" cy="226.55" r="1.5" fill="#17528a"/>
<circle cx="399.63" cy="226.19" r="1.5" fill="#17528a"/>
<circle cx="400.67" cy="238.66" r="1.5" fill="#17528a"/>
<circle cx="395.95" cy="246.39" r="1.5" fill="#17528a"/>
<circle cx="399.76" cy="229.11" r="1.5" fill="#17528a"/>
<circle cx="401.34" cy="243.54" r="1.5" fill="#17528a"/>
<circle cx="401.85" cy="224.26" r="1.5" fill="#17528a"/>
<circle cx="400.11" cy="241.31" r="1.5" fill="#17528a"/>
<circle cx="399.34" cy="227.63" r="1.5" fill="#17528a"/>
<circle cx="402.25" cy="245.67" r="1.5" fill="#17528a"/>
<circle cx="401.74" cy="240.88" r="1.5" fill="#17528a"/>
<circle cx="398.23" cy="223.40" r="1.5" fill="#17528a"/>
<circle cx="403.14" cy="242.88" r="1.5" fill="#17528a"/>
<circle cx="400.82" cy="230.31" r="1.5" fill="#17528a"/>
<circle cx="398.57" cy="238.56" r="1.5" fill="#17528a"/>
<circle cx="402.66" cy="255.15" r="1.5" fill="#17528a"/>
<circle cx="401.60" cy="227.21" r="1.5" fill="#17528a"/>
<circle cx="402.15" cy="250.38" r="1.5" fill="#17528a"/>
<circle cx="401.57" cy="245.30" r="1.5" fill="#17528a"/>
<circle cx="402.35" cy="228.30" r="1.5" fill="#17528a"/>
<circle cx="401.25" cy="244.37" r="1.5" fill="#17528a"/>
<circle cx="398.73" cy="227.48" r="1.5" fill="#17528a"/>
<circle cx="397.76" cy="232.05" r="1.5" fill="#17528a"/>
<circle cx="402.17" cy="238.37" r="1.5" fill="#17528a"/>
<circle cx="408.05" cy="231.21" r="1.5" fill="#17528a"/>
<circle cx="407.28" cy="255.18" r="1.5" fill="#17528a"/>
<circle cx="393.56" cy="228.87" r="1.5" fill="#17528a"/>
<circle cx="402.56" cy="238.54" r="1.5" fill="#17528a"/>
<circle cx="398.61" cy="248.84" r="1.5" fill="#17528a"/>
<circle cx="399.88" cy="226.49" r="1.5" fill="#17528a"/>
<circle cx="400.74" cy="231.82" r="1.5" fill="#17528a"/>
<circle cx="398.39" cy="242.21" r="1.5" fill="#17528a"/>
<circle cx="400.92" cy="239.10" r="1.5" fill="#17528a"/>
<circle cx="404.52" cy="243.82" r="1.5" fill="#17528a"/>
<circle cx="406.48" cy="243.93" r="1.5" fill="#17528a"/>
<circle cx="403.88" cy="243.01" r="1.5" fill="#17528a"/>
<circle cx="405.72" cy="231.74" r="1.5" fill="#17528a"/>
<circle cx="401.82" cy="227.02" r="1.5" fill="#17528a"/>
<circle cx="385.66" cy="252.62" r="1.5" fill="#17528a"/>
<circle cx="379.73" cy="236.56" r="1.5" fill="#17528a"/>
<circle cx="385.39" cy="248.96" r="1.5" fill="#17528a"/>
<circle cx="388.23" cy="225.72" r="1.5" fill="#17528a"/>
<circle cx="381.00" cy="244.10" r="1.5" fill="#17528a"/>
<circle cx="386.67" cy="238.82" r="1.5" fill="#17528a"/>
<circle cx="380.70" cy="249.72" r="1.5" fill="#17528a"/>
<circle cx="391.94" cy="227.45" r="1.5" fill="#17528a"/>
<circle cx="395.16" cy="246.18" r="1.5" fill="#17528a"/>
<circle cx="388.59" cy="243.25" r="1.5" fill="#17528a"/>
<circle cx="391.58" cy="238.72" r="1.5" fill="#17528a"/>
<circle cx="387.75" cy="232.49" r="1.5" fill="#17528a"/>
<circle cx="384.09" cy="240.18" r="1.5" fill="#17528a"/>
<circle cx="388.40" cy="242.92" r="1.5" fill="#17528a"/>
<circle cx="390.45" cy="239.89" r="1.5" fill="#17528a"/>
<circle cx="389.50" cy="239.62" r="1.5" fill="#17528a"/>
<circle cx="396.62" cy="240.84" r="1.5" fill="#17528a"/>
<circle cx="392.67" cy="235.10" r="1.5" fill="#17528a"/>
<circle cx="386.87" cy="236.49" r="1.5" fill="#17528a"/>
<circle cx="384.71" cy="234.52" r="1.5" fill="#17528a"/>
<circle cx="384.91" cy="248.34" r="1.5" fill="#17528a"/>
<circle cx="389.74" cy="234.71" r="1.5" fill="#17528a"/>
<circle cx="392.23" cy="232.92" r="1.5" fill="#17528a"/>
<circle cx="387.48" cy="250.96" r="1.5" fill="#17528a"/>
<circle cx="390.70" cy="238.70" r="1.5" fill="#17528a"/>
<circle cx="384.30" cy="236.30" r="1.5" fill="#17528a"/>
<circle cx="389.21" cy="250.09" r="1.5" fill="#17528a"/>
<circle cx="390.24" cy="252.67" r="1.5" fill="#17528a"/>
<circle cx="384.62" cy="240.96" r="1.5" fill="#17528a"/>
<circle cx="381.73" cy="245.52" r="1.5" fill="#17528a"/>
<circle cx="382.60" cy="239.17" r="1.5" fill="#17528a"/>
<circle cx="385.26" cy="242.49" r="1.5" fill="#17528a"/>
<circle cx="381.96" cy="248.62" r="1.5" fill="#17528a"/>
<circle cx="392.40" cy="236.52" r="1.5" fill="#17528a"/>
<circle cx="380.53" cy="238.65" r="1.5" fill="#17528a"/>
<circle cx="392.16" cy="243.67" r="1.5" fill="#17528a"/>
<circle cx="394.40" cy="248.29" r="1.5" fill="#17528a"/>
<circle cx="388.00" cy="233.23" r="1.5" fill="#17528a"/>
<circle cx="393.94" cy="228.78" r="1.5" fill="#17528a"/>
<circle cx="390.03" cy="253.67" r="1.5" fill="#17528a"/>
<circle cx="387.80" cy="253.55" r="1.5" fill="#17528a"/>
<circle cx="392.88" cy="233.35" r="1.5" fill="#17528a"/>
<circle cx="390.73" cy="241.09" r="1.5" fill="#17528a"/>
<circle cx="388.56" cy="244.85" r="1.5" fill="#17528a"/>
<circle cx="389.99" cy="239.50" r="1.5" fill="#17528a"/>
<circle cx="390.32" cy="245.06" r="1.5" fill="#17528a"/>
<circle cx="396.45" cy="235.92" r="1.5" fill="#17528a"/>
<circle cx="394.30" cy="228.17" r="1.5" fill="#17528a"/>
<circle cx="393.72" cy="242.97" r="1.5" fill="#17528a"/>
<circle cx="388.71" cy="244.45" r="1.5" fill="#17528a"/>
<circle cx="388.92" cy="252.20" r="1.5" fill="#17528a"/>
<circle cx="387.92" cy="246.58" r="1.5" fill="#17528a"/>
<circle cx="391.86" cy="237.85" r="1.5" fill="#17528a"/>
<circle cx="381.00" cy="252.40" r="1.5" fill="#17528a"/>
<circle cx="388.49" cy="237.07" r="1.5" fill="#17528a"/>
<circle cx="388.36" cy="230.76" r="1.5" fill="#17528a"/>
<circle cx="388.45" cy="250.84" r="1.5" fill="#17528a"/>
<circle cx="385.48" cy="237.64" r="1.5" fill="#17528a"/>
<circle cx="385.75" cy="236.68" r="1.5" fill="#17528a"/>
<circle cx="392.71" cy="235.25" r="1.5" fill="#17528a"/>
<circle cx="392.69" cy="241.69" r="1.5" fill="#17528a"/>
<circle cx="388.32" cy="247.46" r="1.5" fill="#17528a"/>
<circle cx="385.76" cy="256.98" r="1.5" fill="#17528a"/>
<circle cx="385.99" cy="252.69" r="1.5" fill="#17528a"/>
<circle cx="382.28" cy="244.32" r="1.5" fill="#17528a"/>
<circle cx="375.14" cy="250.14" r="1.5" fill="#17528a"/>
<circle cx="378.26" cy="245.05" r="1.5" fill="#17528a"/>
<circle cx="377.15" cy="251.17" r="1.5" fill="#17528a"/>
<circle cx="368.51" cy="246.57" r="1.5" fill="#17528a"/>
<circle cx="374.64" cy="245.91" r="1.5" fill="#17528a"/>
<circle cx="375.01" cy="243.79" r="1.5" fill="#17528a"/>
<circle cx="372.61" cy="246.14" r="1.5" fill="#17528a"/>
<circle cx="372.08" cy="242.84" r="1.5" fill="#17528a"/>
<circle cx="368.20" cy="270.18" r="1.5" fill="#17528a"/>
<circle cx="403.98" cy="206.78" r="1.5" fill="#17528a"/>
<circle cx="403.98" cy="209.95" r="1.5" fill="#17528a"/>
<circle cx="386.37" cy="265.43" r="1.5" fill="#17528a"/>
<circle cx="376.72" cy="260.67" r="1.5" fill="#17528a"/>
<circle cx="380.41" cy="260.67" r="1.5" fill="#17528a"/>
<circle cx="388.93" cy="260.67" r="1.5" fill="#17528a"/>
<circle cx="393.47" cy="260.67" r="1.5" fill="#17528a"/>
<circle cx="385.80" cy="214.70" r="1.5" fill="#17528a"/>
<circle cx="386.66" cy="216.29" r="1.5" fill="#17528a"/>
<circle cx="372.17" cy="219.46" r="1.5" fill="#17528a"/>
<circle cx="373.59" cy="221.04" r="1.5" fill="#17528a"/>
<circle cx="377.28" cy="224.21" r="1.5" fill="#17528a"/>
<circle cx="377.00" cy="227.38" r="1.5" fill="#17528a"/>
<circle cx="383.53" cy="221.04" r="1.5" fill="#17528a"/>
<circle cx="390.35" cy="219.46" r="1.5" fill="#17528a"/>
<circle cx="395.74" cy="213.91" r="1.5" fill="#17528a"/>
<circle cx="406.25" cy="213.91" r="1.5" fill="#17528a"/>
<circle cx="406.25" cy="219.46" r="1.5" fill="#17528a"/>
<text x="365.10" y="199.30" font-size="8" textLength="30.4" lengthAdjust="spacingAndGlyphs" fill="#222" class="r">r=0.3804</text>
<text x="365.10" y="211.70" font-size="8" textLength="31.5" lengthAdjust="spacingAndGlyphs" fill="#222" class="r">p&lt;0.0001</text>
<text x="391.20" y="313.30" font-size="9" text-anchor="middle" textLength="39.2" lengthAdjust="spacingAndGlyphs" fill="#222"  class="h">S100A8 [log<tspan font-size="7" dy="2">2</tspan><tspan dy="-2">]</tspan></text>
<text transform="translate(343.75,237.40) rotate(-90)" font-size="9" text-anchor="middle" font-weight="bold" textLength="36" lengthAdjust="spacingAndGlyphs" fill="#222"  class="b">MCL1 [log<tspan font-size="6" dy="2">2</tspan><tspan dy="-2">]</tspan></text>
<line x1="458.50" y1="189.20" x2="458.50" y2="289.80" stroke="#1a1a1a" stroke-width="1.2" />
<line x1="455.50" y1="289.20" x2="458.50" y2="289.20" stroke="#1a1a1a" stroke-width="1.0" />
<text x="451.60" y="292.08" font-size="8" text-anchor="end" fill="#222" >11</text>
<line x1="455.50" y1="273.35" x2="458.50" y2="273.35" stroke="#1a1a1a" stroke-width="1.0" />
<text x="451.60" y="276.23" font-size="8" text-anchor="end" fill="#222" >12</text>
<line x1="455.50" y1="257.50" x2="458.50" y2="257.50" stroke="#1a1a1a" stroke-width="1.0" />
<text x="451.60" y="260.38" font-size="8" text-anchor="end" fill="#222" >13</text>
<line x1="455.50" y1="241.65" x2="458.50" y2="241.65" stroke="#1a1a1a" stroke-width="1.0" />
<text x="451.60" y="244.53" font-size="8" text-anchor="end" fill="#222" >14</text>
<line x1="455.50" y1="225.80" x2="458.50" y2="225.80" stroke="#1a1a1a" stroke-width="1.0" />
<text x="451.60" y="228.68" font-size="8" text-anchor="end" fill="#222" >15</text>
<line x1="455.50" y1="209.95" x2="458.50" y2="209.95" stroke="#1a1a1a" stroke-width="1.0" />
<text x="451.60" y="212.83" font-size="8" text-anchor="end" fill="#222" >16</text>
<line x1="455.50" y1="194.10" x2="458.50" y2="194.10" stroke="#1a1a1a" stroke-width="1.0" />
<text x="451.60" y="196.98" font-size="8" text-anchor="end" fill="#222" >17</text>
<line x1="455.00" y1="289.30" x2="519.30" y2="289.30" stroke="#1a1a1a" stroke-width="1.2" />
<line x1="458.50" y1="289.30" x2="458.50" y2="291.80" stroke="#1a1a1a" stroke-width="1.0" />
<line x1="472.70" y1="289.30" x2="472.70" y2="291.80" stroke="#1a1a1a" stroke-width="1.0" />
<line x1="486.90" y1="289.30" x2="486.90" y2="291.80" stroke="#1a1a1a" stroke-width="1.0" />
<line x1="501.10" y1="289.30" x2="501.10" y2="291.80" stroke="#1a1a1a" stroke-width="1.0" />
<line x1="515.30" y1="289.30" x2="515.30" y2="291.80" stroke="#1a1a1a" stroke-width="1.0" />
<text x="458.70" y="300.58" font-size="8" text-anchor="middle" fill="#222" >0</text>
<text x="472.90" y="300.58" font-size="8" text-anchor="middle" fill="#222" >5</text>
<text x="487.10" y="300.58" font-size="8" text-anchor="middle" fill="#222" >10</text>
<text x="501.30" y="300.58" font-size="8" text-anchor="middle" fill="#222" >15</text>
<text x="515.50" y="300.58" font-size="8" text-anchor="middle" fill="#222" >20</text>
<line x1="468.00" y1="245.40" x2="504.70" y2="228.60" stroke="#e58a98" stroke-width="0.6" stroke-dasharray="1.5,1"/>
<line x1="468.00" y1="249.80" x2="504.70" y2="231.80" stroke="#e58a98" stroke-width="0.6" stroke-dasharray="1.5,1"/>
<line x1="468.00" y1="247.60" x2="504.70" y2="230.20" stroke="#d2233c" stroke-width="1.1" />
<circle cx="491.75" cy="234.59" r="1.5" fill="#17528a"/>
<circle cx="499.95" cy="236.40" r="1.5" fill="#17528a"/>
<circle cx="491.37" cy="239.05" r="1.5" fill="#17528a"/>
<circle cx="498.04" cy="222.81" r="1.5" fill="#17528a"/>
<circle cx="491.78" cy="250.22" r="1.5" fill="#17528a"/>
<circle cx="498.88" cy="227.99" r="1.5" fill="#17528a"/>
<circle cx="501.93" cy="220.79" r="1.5" fill="#17528a"/>
<circle cx="495.90" cy="237.39" r="1.5" fill="#17528a"/>
<circle cx="493.37" cy="247.50" r="1.5" fill="#17528a"/>
<circle cx="496.62" cy="232.87" r="1.5" fill="#17528a"/>
<circle cx="495.00" cy="236.12" r="1.5" fill="#17528a"/>
<circle cx="497.28" cy="227.22" r="1.5" fill="#17528a"/>
<circle cx="500.32" cy="229.32" r="1.5" fill="#17528a"/>
<circle cx="489.66" cy="233.22" r="1.5" fill="#17528a"/>
<circle cx="491.03" cy="240.31" r="1.5" fill="#17528a"/>
<circle cx="490.83" cy="238.84" r="1.5" fill="#17528a"/>
<circle cx="493.40" cy="234.81" r="1.5" fill="#17528a"/>
<circle cx="499.38" cy="244.44" r="1.5" fill="#17528a"/>
<circle cx="495.21" cy="229.16" r="1.5" fill="#17528a"/>
<circle cx="495.93" cy="231.32" r="1.5" fill="#17528a"/>
<circle cx="496.65" cy="243.64" r="1.5" fill="#17528a"/>
<circle cx="498.35" cy="240.47" r="1.5" fill="#17528a"/>
<circle cx="503.18" cy="233.74" r="1.5" fill="#17528a"/>
<circle cx="498.81" cy="232.47" r="1.5" fill="#17528a"/>
<circle cx="499.79" cy="237.35" r="1.5" fill="#17528a"/>
<circle cx="499.96" cy="232.73" r="1.5" fill="#17528a"/>
<circle cx="500.94" cy="224.94" r="1.5" fill="#17528a"/>
<circle cx="496.79" cy="241.42" r="1.5" fill="#17528a"/>
<circle cx="499.11" cy="227.87" r="1.5" fill="#17528a"/>
<circle cx="502.33" cy="233.21" r="1.5" fill="#17528a"/>
<circle cx="498.32" cy="228.12" r="1.5" fill="#17528a"/>
<circle cx="497.32" cy="231.73" r="1.5" fill="#17528a"/>
<circle cx="496.94" cy="239.59" r="1.5" fill="#17528a"/>
<circle cx="492.53" cy="241.22" r="1.5" fill="#17528a"/>
<circle cx="498.45" cy="218.61" r="1.5" fill="#17528a"/>
<circle cx="499.88" cy="221.76" r="1.5" fill="#17528a"/>
<circle cx="499.14" cy="225.68" r="1.5" fill="#17528a"/>
<circle cx="496.95" cy="226.74" r="1.5" fill="#17528a"/>
<circle cx="502.82" cy="232.36" r="1.5" fill="#17528a"/>
<circle cx="493.71" cy="218.19" r="1.5" fill="#17528a"/>
<circle cx="497.18" cy="224.69" r="1.5" fill="#17528a"/>
<circle cx="499.50" cy="242.59" r="1.5" fill="#17528a"/>
<circle cx="496.93" cy="226.94" r="1.5" fill="#17528a"/>
<circle cx="496.74" cy="242.43" r="1.5" fill="#17528a"/>
<circle cx="495.86" cy="231.34" r="1.5" fill="#17528a"/>
<circle cx="500.39" cy="224.58" r="1.5" fill="#17528a"/>
<circle cx="496.49" cy="221.64" r="1.5" fill="#17528a"/>
<circle cx="493.46" cy="229.33" r="1.5" fill="#17528a"/>
<circle cx="500.38" cy="233.98" r="1.5" fill="#17528a"/>
<circle cx="489.66" cy="248.29" r="1.5" fill="#17528a"/>
<circle cx="497.15" cy="228.87" r="1.5" fill="#17528a"/>
<circle cx="501.99" cy="239.37" r="1.5" fill="#17528a"/>
<circle cx="496.28" cy="228.43" r="1.5" fill="#17528a"/>
<circle cx="495.69" cy="257.20" r="1.5" fill="#17528a"/>
<circle cx="499.98" cy="240.16" r="1.5" fill="#17528a"/>
<circle cx="494.75" cy="233.65" r="1.5" fill="#17528a"/>
<circle cx="496.69" cy="219.58" r="1.5" fill="#17528a"/>
<circle cx="495.97" cy="217.31" r="1.5" fill="#17528a"/>
<circle cx="493.74" cy="240.99" r="1.5" fill="#17528a"/>
<circle cx="498.93" cy="219.04" r="1.5" fill="#17528a"/>
<circle cx="498.69" cy="229.76" r="1.5" fill="#17528a"/>
<circle cx="489.55" cy="246.57" r="1.5" fill="#17528a"/>
<circle cx="494.02" cy="241.32" r="1.5" fill="#17528a"/>
<circle cx="498.44" cy="235.93" r="1.5" fill="#17528a"/>
<circle cx="499.18" cy="231.42" r="1.5" fill="#17528a"/>
<circle cx="495.04" cy="234.39" r="1.5" fill="#17528a"/>
<circle cx="497.85" cy="225.21" r="1.5" fill="#17528a"/>
<circle cx="494.51" cy="238.11" r="1.5" fill="#17528a"/>
<circle cx="491.24" cy="223.50" r="1.5" fill="#17528a"/>
<circle cx="501.63" cy="231.91" r="1.5" fill="#17528a"/>
<circle cx="494.51" cy="247.51" r="1.5" fill="#17528a"/>
<circle cx="496.90" cy="232.08" r="1.5" fill="#17528a"/>
<circle cx="501.48" cy="228.59" r="1.5" fill="#17528a"/>
<circle cx="490.33" cy="237.57" r="1.5" fill="#17528a"/>
<circle cx="500.40" cy="225.85" r="1.5" fill="#17528a"/>
<circle cx="495.63" cy="255.09" r="1.5" fill="#17528a"/>
<circle cx="495.81" cy="249.46" r="1.5" fill="#17528a"/>
<circle cx="498.47" cy="252.81" r="1.5" fill="#17528a"/>
<circle cx="492.92" cy="225.76" r="1.5" fill="#17528a"/>
<circle cx="502.34" cy="240.74" r="1.5" fill="#17528a"/>
<circle cx="490.61" cy="230.80" r="1.5" fill="#17528a"/>
<circle cx="499.42" cy="241.25" r="1.5" fill="#17528a"/>
<circle cx="493.71" cy="243.07" r="1.5" fill="#17528a"/>
<circle cx="491.88" cy="244.40" r="1.5" fill="#17528a"/>
<circle cx="500.89" cy="224.36" r="1.5" fill="#17528a"/>
<circle cx="503.86" cy="229.26" r="1.5" fill="#17528a"/>
<circle cx="495.77" cy="244.13" r="1.5" fill="#17528a"/>
<circle cx="495.81" cy="247.19" r="1.5" fill="#17528a"/>
<circle cx="489.71" cy="233.22" r="1.5" fill="#17528a"/>
<circle cx="501.59" cy="222.43" r="1.5" fill="#17528a"/>
<circle cx="501.19" cy="228.22" r="1.5" fill="#17528a"/>
<circle cx="493.62" cy="235.83" r="1.5" fill="#17528a"/>
<circle cx="494.89" cy="246.04" r="1.5" fill="#17528a"/>
<circle cx="490.02" cy="253.41" r="1.5" fill="#17528a"/>
<circle cx="496.25" cy="233.12" r="1.5" fill="#17528a"/>
<circle cx="483.47" cy="232.59" r="1.5" fill="#17528a"/>
<circle cx="486.63" cy="237.92" r="1.5" fill="#17528a"/>
<circle cx="491.65" cy="246.87" r="1.5" fill="#17528a"/>
<circle cx="476.25" cy="242.13" r="1.5" fill="#17528a"/>
<circle cx="482.44" cy="234.13" r="1.5" fill="#17528a"/>
<circle cx="487.39" cy="233.98" r="1.5" fill="#17528a"/>
<circle cx="489.24" cy="246.95" r="1.5" fill="#17528a"/>
<circle cx="482.11" cy="248.83" r="1.5" fill="#17528a"/>
<circle cx="489.47" cy="233.87" r="1.5" fill="#17528a"/>
<circle cx="490.65" cy="254.39" r="1.5" fill="#17528a"/>
<circle cx="485.27" cy="238.51" r="1.5" fill="#17528a"/>
<circle cx="482.08" cy="243.20" r="1.5" fill="#17528a"/>
<circle cx="486.88" cy="234.25" r="1.5" fill="#17528a"/>
<circle cx="481.80" cy="252.28" r="1.5" fill="#17528a"/>
<circle cx="482.08" cy="230.66" r="1.5" fill="#17528a"/>
<circle cx="491.03" cy="241.41" r="1.5" fill="#17528a"/>
<circle cx="486.85" cy="241.69" r="1.5" fill="#17528a"/>
<circle cx="486.74" cy="244.44" r="1.5" fill="#17528a"/>
<circle cx="484.15" cy="254.56" r="1.5" fill="#17528a"/>
<circle cx="482.67" cy="231.19" r="1.5" fill="#17528a"/>
<circle cx="488.35" cy="241.29" r="1.5" fill="#17528a"/>
<circle cx="484.73" cy="243.28" r="1.5" fill="#17528a"/>
<circle cx="487.47" cy="247.68" r="1.5" fill="#17528a"/>
<circle cx="486.71" cy="240.73" r="1.5" fill="#17528a"/>
<circle cx="482.15" cy="251.75" r="1.5" fill="#17528a"/>
<circle cx="480.94" cy="254.69" r="1.5" fill="#17528a"/>
<circle cx="484.48" cy="249.01" r="1.5" fill="#17528a"/>
<circle cx="482.77" cy="244.04" r="1.5" fill="#17528a"/>
<circle cx="491.21" cy="239.65" r="1.5" fill="#17528a"/>
<circle cx="485.09" cy="248.69" r="1.5" fill="#17528a"/>
<circle cx="485.14" cy="235.99" r="1.5" fill="#17528a"/>
<circle cx="483.86" cy="253.80" r="1.5" fill="#17528a"/>
<circle cx="479.66" cy="255.74" r="1.5" fill="#17528a"/>
<circle cx="479.05" cy="237.73" r="1.5" fill="#17528a"/>
<circle cx="487.48" cy="244.28" r="1.5" fill="#17528a"/>
<circle cx="492.81" cy="244.89" r="1.5" fill="#17528a"/>
<circle cx="489.40" cy="234.60" r="1.5" fill="#17528a"/>
<circle cx="481.29" cy="238.12" r="1.5" fill="#17528a"/>
<circle cx="492.02" cy="250.05" r="1.5" fill="#17528a"/>
<circle cx="490.83" cy="243.68" r="1.5" fill="#17528a"/>
<circle cx="483.86" cy="248.85" r="1.5" fill="#17528a"/>
<circle cx="480.93" cy="256.13" r="1.5" fill="#17528a"/>
<circle cx="488.13" cy="224.58" r="1.5" fill="#17528a"/>
<circle cx="498.95" cy="238.89" r="1.5" fill="#17528a"/>
<circle cx="477.45" cy="251.12" r="1.5" fill="#17528a"/>
<circle cx="481.23" cy="229.20" r="1.5" fill="#17528a"/>
<circle cx="488.52" cy="247.80" r="1.5" fill="#17528a"/>
<circle cx="490.28" cy="236.33" r="1.5" fill="#17528a"/>
<circle cx="477.92" cy="251.91" r="1.5" fill="#17528a"/>
<circle cx="484.61" cy="243.70" r="1.5" fill="#17528a"/>
<circle cx="486.40" cy="245.71" r="1.5" fill="#17528a"/>
<circle cx="486.68" cy="247.61" r="1.5" fill="#17528a"/>
<circle cx="481.44" cy="232.97" r="1.5" fill="#17528a"/>
<circle cx="487.50" cy="238.65" r="1.5" fill="#17528a"/>
<circle cx="478.06" cy="248.79" r="1.5" fill="#17528a"/>
<circle cx="489.72" cy="251.83" r="1.5" fill="#17528a"/>
<circle cx="491.06" cy="243.60" r="1.5" fill="#17528a"/>
<circle cx="487.71" cy="243.29" r="1.5" fill="#17528a"/>
<circle cx="486.82" cy="232.66" r="1.5" fill="#17528a"/>
<circle cx="483.82" cy="231.28" r="1.5" fill="#17528a"/>
<circle cx="481.99" cy="253.03" r="1.5" fill="#17528a"/>
<circle cx="489.20" cy="250.24" r="1.5" fill="#17528a"/>
<circle cx="483.98" cy="236.66" r="1.5" fill="#17528a"/>
<circle cx="491.61" cy="254.83" r="1.5" fill="#17528a"/>
<circle cx="488.21" cy="226.25" r="1.5" fill="#17528a"/>
<circle cx="491.53" cy="242.11" r="1.5" fill="#17528a"/>
<circle cx="482.86" cy="247.27" r="1.5" fill="#17528a"/>
<circle cx="480.20" cy="248.45" r="1.5" fill="#17528a"/>
<circle cx="484.86" cy="244.94" r="1.5" fill="#17528a"/>
<circle cx="491.47" cy="242.06" r="1.5" fill="#17528a"/>
<circle cx="467.55" cy="244.62" r="1.5" fill="#17528a"/>
<circle cx="468.54" cy="250.55" r="1.5" fill="#17528a"/>
<circle cx="470.94" cy="250.15" r="1.5" fill="#17528a"/>
<circle cx="468.72" cy="249.77" r="1.5" fill="#17528a"/>
<circle cx="476.86" cy="251.19" r="1.5" fill="#17528a"/>
<circle cx="470.93" cy="244.33" r="1.5" fill="#17528a"/>
<circle cx="473.18" cy="245.76" r="1.5" fill="#17528a"/>
<circle cx="473.48" cy="256.58" r="1.5" fill="#17528a"/>
<circle cx="469.01" cy="270.18" r="1.5" fill="#17528a"/>
<circle cx="502.24" cy="206.78" r="1.5" fill="#17528a"/>
<circle cx="502.24" cy="210.74" r="1.5" fill="#17528a"/>
<circle cx="485.48" cy="265.43" r="1.5" fill="#17528a"/>
<circle cx="475.54" cy="260.67" r="1.5" fill="#17528a"/>
<circle cx="487.75" cy="260.67" r="1.5" fill="#17528a"/>
<circle cx="490.02" cy="260.67" r="1.5" fill="#17528a"/>
<circle cx="468.16" cy="219.46" r="1.5" fill="#17528a"/>
<circle cx="473.27" cy="227.38" r="1.5" fill="#17528a"/>
<circle cx="476.39" cy="224.21" r="1.5" fill="#17528a"/>
<circle cx="477.81" cy="219.46" r="1.5" fill="#17528a"/>
<circle cx="481.79" cy="214.70" r="1.5" fill="#17528a"/>
<circle cx="492.58" cy="214.70" r="1.5" fill="#17528a"/>
<circle cx="499.96" cy="216.29" r="1.5" fill="#17528a"/>
<text x="460.80" y="199.30" font-size="8" textLength="30.4" lengthAdjust="spacingAndGlyphs" fill="#222" class="r">r=0.3722</text>
<text x="460.80" y="211.70" font-size="8" textLength="31.5" lengthAdjust="spacingAndGlyphs" fill="#222" class="r">p&lt;0.0001</text>
<text x="486.90" y="313.30" font-size="9" text-anchor="middle" textLength="39.2" lengthAdjust="spacingAndGlyphs" fill="#222"  class="h">S100A9 [log<tspan font-size="7" dy="2">2</tspan><tspan dy="-2">]</tspan></text>
<text transform="translate(439.55,237.40) rotate(-90)" font-size="9" text-anchor="middle" font-weight="bold" textLength="36" lengthAdjust="spacingAndGlyphs" fill="#222"  class="b">MCL1 [log<tspan font-size="6" dy="2">2</tspan><tspan dy="-2">]</tspan></text>
<text x="2.70" y="350.80" font-size="11" font-weight="bold" fill="#000" >J</text>
<line x1="44.50" y1="363.80" x2="44.50" y2="461.00" stroke="#1a1a1a" stroke-width="1.2" />
<line x1="41.50" y1="460.50" x2="44.50" y2="460.50" stroke="#1a1a1a" stroke-width="1.0" />
<text x="37.60" y="463.38" font-size="8" text-anchor="end" fill="#222" >0</text>
<line x1="41.50" y1="436.99" x2="44.50" y2="436.99" stroke="#1a1a1a" stroke-width="1.0" />
<text x="37.60" y="439.87" font-size="8" text-anchor="end" fill="#222" >20</text>
<line x1="41.50" y1="413.48" x2="44.50" y2="413.48" stroke="#1a1a1a" stroke-width="1.0" />
<text x="37.60" y="416.36" font-size="8" text-anchor="end" fill="#222" >40</text>
<line x1="41.50" y1="389.96" x2="44.50" y2="389.96" stroke="#1a1a1a" stroke-width="1.0" />
<text x="37.60" y="392.84" font-size="8" text-anchor="end" fill="#222" >60</text>
<line x1="41.50" y1="366.45" x2="44.50" y2="366.45" stroke="#1a1a1a" stroke-width="1.0" />
<text x="37.60" y="369.33" font-size="8" text-anchor="end" fill="#222" >80</text>
<line x1="43.90" y1="460.50" x2="105.00" y2="460.50" stroke="#1a1a1a" stroke-width="1.2" />
<line x1="44.50" y1="460.50" x2="44.50" y2="463.10" stroke="#1a1a1a" stroke-width="1.0" />
<line x1="66.20" y1="460.50" x2="66.20" y2="463.10" stroke="#1a1a1a" stroke-width="1.0" />
<line x1="87.90" y1="460.50" x2="87.90" y2="463.10" stroke="#1a1a1a" stroke-width="1.0" />
<line x1="51.03" y1="460.50" x2="51.03" y2="462.70" stroke="#1a1a1a" stroke-width="0.85" />
<line x1="54.85" y1="460.50" x2="54.85" y2="462.70" stroke="#1a1a1a" stroke-width="0.85" />
<line x1="57.56" y1="460.50" x2="57.56" y2="462.70" stroke="#1a1a1a" stroke-width="0.85" />
<line x1="59.67" y1="460.50" x2="59.67" y2="462.70" stroke="#1a1a1a" stroke-width="0.85" />
<line x1="61.39" y1="460.50" x2="61.39" y2="462.70" stroke="#1a1a1a" stroke-width="0.85" />
<line x1="62.84" y1="460.50" x2="62.84" y2="462.70" stroke="#1a1a1a" stroke-width="0.85" />
<line x1="64.10" y1="460.50" x2="64.10" y2="462.70" stroke="#1a1a1a" stroke-width="0.85" />
<line x1="65.21" y1="460.50" x2="65.21" y2="462.70" stroke="#1a1a1a" stroke-width="0.85" />
<line x1="72.73" y1="460.50" x2="72.73" y2="462.70" stroke="#1a1a1a" stroke-width="0.85" />
<line x1="76.55" y1="460.50" x2="76.55" y2="462.70" stroke="#1a1a1a" stroke-width="0.85" />
<line x1="79.26" y1="460.50" x2="79.26" y2="462.70" stroke="#1a1a1a" stroke-width="0.85" />
<line x1="81.37" y1="460.50" x2="81.37" y2="462.70" stroke="#1a1a1a" stroke-width="0.85" />
<line x1="83.09" y1="460.50" x2="83.09" y2="462.70" stroke="#1a1a1a" stroke-width="0.85" />
<line x1="84.54" y1="460.50" x2="84.54" y2="462.70" stroke="#1a1a1a" stroke-width="0.85" />
<line x1="85.80" y1="460.50" x2="85.80" y2="462.70" stroke="#1a1a1a" stroke-width="0.85" />
<line x1="86.91" y1="460.50" x2="86.91" y2="462.70" stroke="#1a1a1a" stroke-width="0.85" />
<line x1="94.43" y1="460.50" x2="94.43" y2="462.70" stroke="#1a1a1a" stroke-width="0.85" />
<line x1="98.25" y1="460.50" x2="98.25" y2="462.70" stroke="#1a1a1a" stroke-width="0.85" />
<line x1="100.96" y1="460.50" x2="100.96" y2="462.70" stroke="#1a1a1a" stroke-width="0.85" />
<line x1="103.07" y1="460.50" x2="103.07" y2="462.70" stroke="#1a1a1a" stroke-width="0.85" />
<line x1="104.79" y1="460.50" x2="104.79" y2="462.70" stroke="#1a1a1a" stroke-width="0.85" />
<text x="44.50" y="471.38" font-size="8" text-anchor="middle" fill="#222" >10</text>
<text x="66.20" y="471.38" font-size="8" text-anchor="middle" fill="#222" >100</text>
<text x="87.90" y="471.38" font-size="8" text-anchor="middle" fill="#222" >1000</text>
<text x="74.50" y="483.94" font-size="9" text-anchor="middle" textLength="47.5" lengthAdjust="spacingAndGlyphs" fill="#222"  class="h">Venetoclax [nM]</text>
<line x1="53.14" y1="447.00" x2="53.14" y2="453.30" stroke="#222" stroke-width="1.0" />
<line x1="51.14" y1="447.00" x2="55.14" y2="447.00" stroke="#222" stroke-width="1.0" />
<line x1="51.14" y1="453.30" x2="55.14" y2="453.30" stroke="#222" stroke-width="1.0" />
<line x1="59.67" y1="442.50" x2="59.67" y2="452.50" stroke="#222" stroke-width="1.0" />
<line x1="57.67" y1="442.50" x2="61.67" y2="442.50" stroke="#222" stroke-width="1.0" />
<line x1="57.67" y1="452.50" x2="61.67" y2="452.50" stroke="#222" stroke-width="1.0" />
<line x1="72.73" y1="439.50" x2="72.73" y2="452.50" stroke="#222" stroke-width="1.0" />
<line x1="70.73" y1="439.50" x2="74.73" y2="439.50" stroke="#222" stroke-width="1.0" />
<line x1="70.73" y1="452.50" x2="74.73" y2="452.50" stroke="#222" stroke-width="1.0" />
<line x1="81.37" y1="440.50" x2="81.37" y2="453.30" stroke="#222" stroke-width="1.0" />
<line x1="79.37" y1="440.50" x2="83.37" y2="440.50" stroke="#222" stroke-width="1.0" />
<line x1="79.37" y1="453.30" x2="83.37" y2="453.30" stroke="#222" stroke-width="1.0" />
<line x1="87.90" y1="437.00" x2="87.90" y2="451.80" stroke="#222" stroke-width="1.0" />
<line x1="85.90" y1="437.00" x2="89.90" y2="437.00" stroke="#222" stroke-width="1.0" />
<line x1="85.90" y1="451.80" x2="89.90" y2="451.80" stroke="#222" stroke-width="1.0" />
<polyline points="53.14,450.50 59.67,447.50 72.73,445.80 81.37,446.80 87.90,444.50" fill="none" stroke="#c8162e" stroke-width="1.4" />
<circle cx="53.14" cy="450.50" r="1.9" fill="#c8162e"/>
<circle cx="59.67" cy="447.50" r="1.9" fill="#c8162e"/>
<circle cx="72.73" cy="445.80" r="1.9" fill="#c8162e"/>
<circle cx="81.37" cy="446.80" r="1.9" fill="#c8162e"/>
<circle cx="87.90" cy="444.50" r="1.9" fill="#c8162e"/>
<line x1="53.14" y1="406.30" x2="53.14" y2="420.50" stroke="#222" stroke-width="1.0" />
<line x1="51.14" y1="406.30" x2="55.14" y2="406.30" stroke="#222" stroke-width="1.0" />
<line x1="51.14" y1="420.50" x2="55.14" y2="420.50" stroke="#222" stroke-width="1.0" />
<line x1="59.67" y1="402.50" x2="59.67" y2="418.00" stroke="#222" stroke-width="1.0" />
<line x1="57.67" y1="402.50" x2="61.67" y2="402.50" stroke="#222" stroke-width="1.0" />
<line x1="57.67" y1="418.00" x2="61.67" y2="418.00" stroke="#222" stroke-width="1.0" />
<line x1="72.73" y1="398.00" x2="72.73" y2="414.30" stroke="#222" stroke-width="1.0" />
<line x1="70.73" y1="398.00" x2="74.73" y2="398.00" stroke="#222" stroke-width="1.0" />
<line x1="70.73" y1="414.30" x2="74.73" y2="414.30" stroke="#222" stroke-width="1.0" />
<line x1="81.37" y1="394.50" x2="81.37" y2="412.00" stroke="#222" stroke-width="1.0" />
<line x1="79.37" y1="394.50" x2="83.37" y2="394.50" stroke="#222" stroke-width="1.0" />
<line x1="79.37" y1="412.00" x2="83.37" y2="412.00" stroke="#222" stroke-width="1.0" />
<line x1="87.90" y1="392.50" x2="87.90" y2="409.50" stroke="#222" stroke-width="1.0" />
<line x1="85.90" y1="392.50" x2="89.90" y2="392.50" stroke="#222" stroke-width="1.0" />
<line x1="85.90" y1="409.50" x2="89.90" y2="409.50" stroke="#222" stroke-width="1.0" />
<polyline points="53.14,413.30 59.67,410.00 72.73,406.30 81.37,403.00 87.90,400.80" fill="none" stroke="#17528a" stroke-width="1.4" />
<circle cx="53.14" cy="413.30" r="1.9" fill="#17528a"/>
<circle cx="59.67" cy="410.00" r="1.9" fill="#17528a"/>
<circle cx="72.73" cy="406.30" r="1.9" fill="#17528a"/>
<circle cx="81.37" cy="403.00" r="1.9" fill="#17528a"/>
<circle cx="87.90" cy="400.80" r="1.9" fill="#17528a"/>
<circle cx="48.90" cy="403.00" r="1.0" fill="#1a1a1a"/>
<circle cx="51.90" cy="403.00" r="1.0" fill="#1a1a1a"/>
<circle cx="54.90" cy="403.00" r="1.0" fill="#1a1a1a"/>
<circle cx="56.40" cy="397.70" r="1.0" fill="#1a1a1a"/>
<circle cx="59.40" cy="397.70" r="1.0" fill="#1a1a1a"/>
<circle cx="62.40" cy="397.70" r="1.0" fill="#1a1a1a"/>
<circle cx="69.70" cy="395.00" r="1.0" fill="#1a1a1a"/>
<circle cx="72.70" cy="395.00" r="1.0" fill="#1a1a1a"/>
<circle cx="75.70" cy="395.00" r="1.0" fill="#1a1a1a"/>
<circle cx="77.90" cy="391.20" r="1.0" fill="#1a1a1a"/>
<circle cx="80.90" cy="391.20" r="1.0" fill="#1a1a1a"/>
<circle cx="83.90" cy="391.20" r="1.0" fill="#1a1a1a"/>
<circle cx="85.20" cy="388.00" r="1.0" fill="#1a1a1a"/>
<circle cx="88.20" cy="388.00" r="1.0" fill="#1a1a1a"/>
<circle cx="91.20" cy="388.00" r="1.0" fill="#1a1a1a"/>
<text x="75.50" y="384.30" font-size="8" textLength="45.8" lengthAdjust="spacingAndGlyphs" fill="#222" class="r">S100A8/A9<tspan font-size="5" dy="-3">lo</tspan></text>
<text x="79.50" y="435.00" font-size="8" textLength="46.5" lengthAdjust="spacingAndGlyphs" fill="#222" class="r">S100A8/A9<tspan font-size="5" dy="-3">hi</tspan></text>
<text transform="translate(19.85,413.50) rotate(-90)" font-size="9" text-anchor="middle" textLength="42" lengthAdjust="spacingAndGlyphs" fill="#222"  class="h">Cell death [%]</text>
<text x="161.50" y="350.20" font-size="11" font-weight="bold" fill="#000" >K</text>
<text x="226.10" y="360.40" font-size="9.6" text-anchor="middle" fill="#222" >HS-5 CM</text>
<line x1="206.80" y1="364.00" x2="206.80" y2="460.90" stroke="#1a1a1a" stroke-width="1.2" />
<line x1="203.80" y1="460.40" x2="206.80" y2="460.40" stroke="#1a1a1a" stroke-width="1.0" />
<text x="199.90" y="463.28" font-size="8" text-anchor="end" fill="#222" >0</text>
<line x1="203.80" y1="441.40" x2="206.80" y2="441.40" stroke="#1a1a1a" stroke-width="1.0" />
<text x="199.90" y="444.28" font-size="8" text-anchor="end" fill="#222" >5</text>
<line x1="203.80" y1="422.40" x2="206.80" y2="422.40" stroke="#1a1a1a" stroke-width="1.0" />
<text x="199.90" y="425.28" font-size="8" text-anchor="end" fill="#222" >10</text>
<line x1="203.80" y1="403.40" x2="206.80" y2="403.40" stroke="#1a1a1a" stroke-width="1.0" />
<text x="199.90" y="406.28" font-size="8" text-anchor="end" fill="#222" >15</text>
<line x1="203.80" y1="384.40" x2="206.80" y2="384.40" stroke="#1a1a1a" stroke-width="1.0" />
<text x="199.90" y="387.28" font-size="8" text-anchor="end" fill="#222" >20</text>
<line x1="203.80" y1="365.40" x2="206.80" y2="365.40" stroke="#1a1a1a" stroke-width="1.0" />
<text x="199.90" y="368.28" font-size="8" text-anchor="end" fill="#222" >25</text>
<line x1="206.20" y1="460.40" x2="266.80" y2="460.40" stroke="#1a1a1a" stroke-width="1.2" />
<line x1="207.30" y1="460.40" x2="207.30" y2="463.00" stroke="#1a1a1a" stroke-width="1.0" />
<line x1="229.00" y1="460.40" x2="229.00" y2="463.00" stroke="#1a1a1a" stroke-width="1.0" />
<line x1="250.70" y1="460.40" x2="250.70" y2="463.00" stroke="#1a1a1a" stroke-width="1.0" />
<line x1="213.83" y1="460.40" x2="213.83" y2="462.60" stroke="#1a1a1a" stroke-width="0.85" />
<line x1="217.65" y1="460.40" x2="217.65" y2="462.60" stroke="#1a1a1a" stroke-width="0.85" />
<line x1="220.36" y1="460.40" x2="220.36" y2="462.60" stroke="#1a1a1a" stroke-width="0.85" />
<line x1="222.47" y1="460.40" x2="222.47" y2="462.60" stroke="#1a1a1a" stroke-width="0.85" />
<line x1="224.19" y1="460.40" x2="224.19" y2="462.60" stroke="#1a1a1a" stroke-width="0.85" />
<line x1="225.64" y1="460.40" x2="225.64" y2="462.60" stroke="#1a1a1a" stroke-width="0.85" />
<line x1="226.90" y1="460.40" x2="226.90" y2="462.60" stroke="#1a1a1a" stroke-width="0.85" />
<line x1="228.01" y1="460.40" x2="228.01" y2="462.60" stroke="#1a1a1a" stroke-width="0.85" />
<line x1="235.53" y1="460.40" x2="235.53" y2="462.60" stroke="#1a1a1a" stroke-width="0.85" />
<line x1="239.35" y1="460.40" x2="239.35" y2="462.60" stroke="#1a1a1a" stroke-width="0.85" />
<line x1="242.06" y1="460.40" x2="242.06" y2="462.60" stroke="#1a1a1a" stroke-width="0.85" />
<line x1="244.17" y1="460.40" x2="244.17" y2="462.60" stroke="#1a1a1a" stroke-width="0.85" />
<line x1="245.89" y1="460.40" x2="245.89" y2="462.60" stroke="#1a1a1a" stroke-width="0.85" />
<line x1="247.34" y1="460.40" x2="247.34" y2="462.60" stroke="#1a1a1a" stroke-width="0.85" />
<line x1="248.60" y1="460.40" x2="248.60" y2="462.60" stroke="#1a1a1a" stroke-width="0.85" />
<line x1="249.71" y1="460.40" x2="249.71" y2="462.60" stroke="#1a1a1a" stroke-width="0.85" />
<line x1="257.23" y1="460.40" x2="257.23" y2="462.60" stroke="#1a1a1a" stroke-width="0.85" />
<line x1="261.05" y1="460.40" x2="261.05" y2="462.60" stroke="#1a1a1a" stroke-width="0.85" />
<line x1="263.76" y1="460.40" x2="263.76" y2="462.60" stroke="#1a1a1a" stroke-width="0.85" />
<line x1="265.87" y1="460.40" x2="265.87" y2="462.60" stroke="#1a1a1a" stroke-width="0.85" />
<text x="207.30" y="471.38" font-size="8" text-anchor="middle" fill="#222" >10</text>
<text x="229.00" y="471.38" font-size="8" text-anchor="middle" fill="#222" >100</text>
<text x="250.70" y="471.38" font-size="8" text-anchor="middle" fill="#222" >1000</text>
<text x="237.50" y="485.24" font-size="9" text-anchor="middle" textLength="47" lengthAdjust="spacingAndGlyphs" fill="#222"  class="h">Venetoclax [nM]</text>
<line x1="215.94" y1="438.20" x2="215.94" y2="453.50" stroke="#222" stroke-width="1.0" />
<line x1="213.94" y1="438.20" x2="217.94" y2="438.20" stroke="#222" stroke-width="1.0" />
<line x1="213.94" y1="453.50" x2="217.94" y2="453.50" stroke="#222" stroke-width="1.0" />
<line x1="222.47" y1="439.70" x2="222.47" y2="453.50" stroke="#222" stroke-width="1.0" />
<line x1="220.47" y1="439.70" x2="224.47" y2="439.70" stroke="#222" stroke-width="1.0" />
<line x1="220.47" y1="453.50" x2="224.47" y2="453.50" stroke="#222" stroke-width="1.0" />
<line x1="235.53" y1="439.00" x2="235.53" y2="453.00" stroke="#222" stroke-width="1.0" />
<line x1="233.53" y1="439.00" x2="237.53" y2="439.00" stroke="#222" stroke-width="1.0" />
<line x1="233.53" y1="453.00" x2="237.53" y2="453.00" stroke="#222" stroke-width="1.0" />
<line x1="244.17" y1="438.70" x2="244.17" y2="446.00" stroke="#222" stroke-width="1.0" />
<line x1="242.17" y1="438.70" x2="246.17" y2="438.70" stroke="#222" stroke-width="1.0" />
<line x1="242.17" y1="446.00" x2="246.17" y2="446.00" stroke="#222" stroke-width="1.0" />
<line x1="250.70" y1="428.50" x2="250.70" y2="438.20" stroke="#222" stroke-width="1.0" />
<line x1="248.70" y1="428.50" x2="252.70" y2="428.50" stroke="#222" stroke-width="1.0" />
<line x1="248.70" y1="438.20" x2="252.70" y2="438.20" stroke="#222" stroke-width="1.0" />
<path d="M215.94,446.00 C217.02,446.12 219.20,446.70 222.47,446.70 C225.73,446.70 231.92,446.63 235.53,446.00 C239.15,445.37 241.64,445.00 244.17,442.90 C246.70,440.80 249.61,434.98 250.70,433.40" fill="none" stroke="#c8162e" stroke-width="1.4"/>
<circle cx="215.94" cy="446.00" r="1.9" fill="#c8162e"/>
<circle cx="222.47" cy="446.70" r="1.9" fill="#c8162e"/>
<circle cx="235.53" cy="446.00" r="1.9" fill="#c8162e"/>
<circle cx="244.17" cy="442.90" r="1.9" fill="#c8162e"/>
<circle cx="250.70" cy="433.40" r="1.9" fill="#c8162e"/>
<line x1="215.94" y1="411.20" x2="215.94" y2="435.50" stroke="#222" stroke-width="1.0" />
<line x1="213.94" y1="411.20" x2="217.94" y2="411.20" stroke="#222" stroke-width="1.0" />
<line x1="213.94" y1="435.50" x2="217.94" y2="435.50" stroke="#222" stroke-width="1.0" />
<line x1="222.47" y1="409.50" x2="222.47" y2="430.60" stroke="#222" stroke-width="1.0" />
<line x1="220.47" y1="409.50" x2="224.47" y2="409.50" stroke="#222" stroke-width="1.0" />
<line x1="220.47" y1="430.60" x2="224.47" y2="430.60" stroke="#222" stroke-width="1.0" />
<line x1="235.53" y1="408.60" x2="235.53" y2="418.00" stroke="#222" stroke-width="1.0" />
<line x1="233.53" y1="408.60" x2="237.53" y2="408.60" stroke="#222" stroke-width="1.0" />
<line x1="233.53" y1="418.00" x2="237.53" y2="418.00" stroke="#222" stroke-width="1.0" />
<line x1="244.17" y1="397.00" x2="244.17" y2="405.70" stroke="#222" stroke-width="1.0" />
<line x1="242.17" y1="397.00" x2="246.17" y2="397.00" stroke="#222" stroke-width="1.0" />
<line x1="242.17" y1="405.70" x2="246.17" y2="405.70" stroke="#222" stroke-width="1.0" />
<line x1="250.70" y1="374.50" x2="250.70" y2="387.50" stroke="#222" stroke-width="1.0" />
<line x1="248.70" y1="374.50" x2="252.70" y2="374.50" stroke="#222" stroke-width="1.0" />
<line x1="248.70" y1="387.50" x2="252.70" y2="387.50" stroke="#222" stroke-width="1.0" />
<path d="M215.94,423.40 C217.02,422.88 219.20,421.92 222.47,420.30 C225.73,418.68 231.92,416.82 235.53,413.70 C239.15,410.58 241.64,407.02 244.17,401.60 C246.70,396.18 249.61,384.60 250.70,381.20" fill="none" stroke="#17528a" stroke-width="1.4"/>
<circle cx="215.94" cy="423.40" r="1.9" fill="#17528a"/>
<circle cx="222.47" cy="420.30" r="1.9" fill="#17528a"/>
<circle cx="235.53" cy="413.70" r="1.9" fill="#17528a"/>
<circle cx="244.17" cy="401.60" r="1.9" fill="#17528a"/>
<circle cx="250.70" cy="381.20" r="1.9" fill="#17528a"/>
<circle cx="212.94" cy="406.50" r="1.0" fill="#1a1a1a"/>
<circle cx="215.94" cy="406.50" r="1.0" fill="#1a1a1a"/>
<circle cx="218.94" cy="406.50" r="1.0" fill="#1a1a1a"/>
<circle cx="219.47" cy="402.70" r="1.0" fill="#1a1a1a"/>
<circle cx="222.47" cy="402.70" r="1.0" fill="#1a1a1a"/>
<circle cx="225.47" cy="402.70" r="1.0" fill="#1a1a1a"/>
<circle cx="232.53" cy="405.90" r="1.0" fill="#1a1a1a"/>
<circle cx="235.53" cy="405.90" r="1.0" fill="#1a1a1a"/>
<circle cx="238.53" cy="405.90" r="1.0" fill="#1a1a1a"/>
<circle cx="237.57" cy="393.80" r="1.0" fill="#1a1a1a"/>
<circle cx="240.57" cy="393.80" r="1.0" fill="#1a1a1a"/>
<circle cx="243.57" cy="393.80" r="1.0" fill="#1a1a1a"/>
<circle cx="247.70" cy="371.70" r="1.0" fill="#1a1a1a"/>
<circle cx="250.70" cy="371.70" r="1.0" fill="#1a1a1a"/>
<circle cx="253.70" cy="371.70" r="1.0" fill="#1a1a1a"/>
<line x1="212.50" y1="371.00" x2="221.00" y2="371.00" stroke="#c8162e" stroke-width="1.4" />
<circle cx="216.80" cy="371.00" r="1.8" fill="#c8162e"/>
<text x="224.60" y="373.40" font-size="6.5" fill="#222" >–</text>
<line x1="212.50" y1="380.60" x2="221.00" y2="380.60" stroke="#17528a" stroke-width="1.4" />
<circle cx="216.80" cy="380.60" r="1.8" fill="#17528a"/>
<text x="224.50" y="383.30" font-size="8" fill="#222" >+</text>
<text transform="translate(184.65,414.60) rotate(-90)" font-size="9" text-anchor="middle" textLength="75.5" lengthAdjust="spacingAndGlyphs" fill="#222"  class="h">S100A8/A9<tspan font-size="5" dy="-3">hi</tspan><tspan dy="3"> frequency [%]</tspan></text>
<text x="310.20" y="350.50" font-size="11" font-weight="bold" fill="#000" >L</text>
<line x1="362.20" y1="362.00" x2="362.20" y2="461.50" stroke="#1a1a1a" stroke-width="1.2" />
<line x1="359.20" y1="461.00" x2="362.20" y2="461.00" stroke="#1a1a1a" stroke-width="1.0" />
<text x="355.30" y="463.88" font-size="8" text-anchor="end" fill="#222" >0</text>
<line x1="359.20" y1="436.82" x2="362.20" y2="436.82" stroke="#1a1a1a" stroke-width="1.0" />
<text x="355.30" y="439.70" font-size="8" text-anchor="end" fill="#222" >1000</text>
<line x1="359.20" y1="412.64" x2="362.20" y2="412.64" stroke="#1a1a1a" stroke-width="1.0" />
<text x="355.30" y="415.52" font-size="8" text-anchor="end" fill="#222" >2000</text>
<line x1="359.20" y1="388.46" x2="362.20" y2="388.46" stroke="#1a1a1a" stroke-width="1.0" />
<text x="355.30" y="391.34" font-size="8" text-anchor="end" fill="#222" >3000</text>
<line x1="359.20" y1="364.28" x2="362.20" y2="364.28" stroke="#1a1a1a" stroke-width="1.0" />
<text x="355.30" y="367.16" font-size="8" text-anchor="end" fill="#222" >4000</text>
<line x1="358.70" y1="461.00" x2="396.70" y2="461.00" stroke="#1a1a1a" stroke-width="1.2" />
<line x1="373.30" y1="461.00" x2="373.30" y2="463.50" stroke="#1a1a1a" stroke-width="1.0" />
<line x1="386.10" y1="461.00" x2="386.10" y2="463.50" stroke="#1a1a1a" stroke-width="1.0" />
<polyline points="373.30,400.60 373.30,379.90 386.10,379.90 386.10,382.50" fill="none" stroke="#222" stroke-width="0.9" />
<circle cx="376.60" cy="376.20" r="1.05" fill="#1a1a1a"/>
<circle cx="379.70" cy="376.20" r="1.05" fill="#1a1a1a"/>
<circle cx="382.80" cy="376.20" r="1.05" fill="#1a1a1a"/>
<line x1="373.30" y1="406.50" x2="386.10" y2="389.60" stroke="#0a0a0a" stroke-width="1.05" />
<line x1="373.30" y1="411.20" x2="386.10" y2="396.90" stroke="#0a0a0a" stroke-width="1.05" />
<line x1="373.30" y1="418.20" x2="386.10" y2="397.80" stroke="#0a0a0a" stroke-width="1.05" />
<line x1="373.30" y1="419.80" x2="386.10" y2="406.50" stroke="#0a0a0a" stroke-width="1.05" />
<line x1="373.30" y1="422.90" x2="386.10" y2="412.70" stroke="#0a0a0a" stroke-width="1.05" />
<line x1="373.30" y1="424.30" x2="386.10" y2="416.70" stroke="#0a0a0a" stroke-width="1.05" />
<circle cx="373.30" cy="406.50" r="2.0" fill="#17528a"/>
<circle cx="386.10" cy="389.60" r="2.0" fill="#c8162e"/>
<circle cx="373.30" cy="411.20" r="2.0" fill="#17528a"/>
<circle cx="386.10" cy="396.90" r="2.0" fill="#c8162e"/>
<circle cx="373.30" cy="418.20" r="2.0" fill="#17528a"/>
<circle cx="386.10" cy="397.80" r="2.0" fill="#c8162e"/>
<circle cx="373.30" cy="419.80" r="2.0" fill="#17528a"/>
<circle cx="386.10" cy="406.50" r="2.0" fill="#c8162e"/>
<circle cx="373.30" cy="422.90" r="2.0" fill="#17528a"/>
<circle cx="386.10" cy="412.70" r="2.0" fill="#c8162e"/>
<circle cx="373.30" cy="424.30" r="2.0" fill="#17528a"/>
<circle cx="386.10" cy="416.70" r="2.0" fill="#c8162e"/>
<text transform="translate(375.50,470.40) rotate(-45)" font-size="8" text-anchor="end" textLength="24" lengthAdjust="spacingAndGlyphs" fill="#222"  class="r">A8/A9<tspan font-size="5" dy="-3">lo</tspan></text>
<text transform="translate(388.40,470.40) rotate(-45)" font-size="8" text-anchor="end" textLength="24" lengthAdjust="spacingAndGlyphs" fill="#222"  class="r">A8/A9<tspan font-size="5" dy="-3">hi</tspan></text>
<text transform="translate(328.85,413.60) rotate(-90)" font-size="9" text-anchor="middle" font-weight="bold" textLength="39" lengthAdjust="spacingAndGlyphs" fill="#222"  class="b">Mcl-1 [MdFI]</text>
<text x="430.30" y="350.70" font-size="11" font-weight="bold" fill="#000" >M</text>
<line x1="484.50" y1="360.00" x2="484.50" y2="461.50" stroke="#1a1a1a" stroke-width="1.2" />
<line x1="481.50" y1="461.00" x2="484.50" y2="461.00" stroke="#1a1a1a" stroke-width="1.0" />
<text x="477.60" y="463.88" font-size="8" text-anchor="end" fill="#222" >10000</text>
<line x1="481.50" y1="436.70" x2="484.50" y2="436.70" stroke="#1a1a1a" stroke-width="1.0" />
<text x="477.60" y="439.58" font-size="8" text-anchor="end" fill="#222" >12500</text>
<line x1="481.50" y1="412.40" x2="484.50" y2="412.40" stroke="#1a1a1a" stroke-width="1.0" />
<text x="477.60" y="415.28" font-size="8" text-anchor="end" fill="#222" >15000</text>
<line x1="481.50" y1="388.10" x2="484.50" y2="388.10" stroke="#1a1a1a" stroke-width="1.0" />
<text x="477.60" y="390.98" font-size="8" text-anchor="end" fill="#222" >17500</text>
<line x1="481.50" y1="363.80" x2="484.50" y2="363.80" stroke="#1a1a1a" stroke-width="1.0" />
<text x="477.60" y="366.68" font-size="8" text-anchor="end" fill="#222" >20000</text>
<line x1="481.00" y1="461.00" x2="520.00" y2="461.00" stroke="#1a1a1a" stroke-width="1.2" />
<line x1="495.70" y1="461.00" x2="495.70" y2="463.50" stroke="#1a1a1a" stroke-width="1.0" />
<line x1="508.40" y1="461.00" x2="508.40" y2="463.50" stroke="#1a1a1a" stroke-width="1.0" />
<polyline points="495.70,372.60 495.70,369.80 508.40,369.80 508.40,380.80" fill="none" stroke="#222" stroke-width="0.9" />
<circle cx="500.15" cy="366.00" r="1.05" fill="#1a1a1a"/>
<circle cx="503.25" cy="366.00" r="1.05" fill="#1a1a1a"/>
<line x1="495.70" y1="374.80" x2="508.40" y2="385.60" stroke="#0a0a0a" stroke-width="1.05" />
<line x1="495.70" y1="376.10" x2="508.40" y2="388.60" stroke="#0a0a0a" stroke-width="1.05" />
<line x1="495.70" y1="394.90" x2="508.40" y2="427.60" stroke="#0a0a0a" stroke-width="1.05" />
<line x1="495.70" y1="400.20" x2="508.40" y2="435.90" stroke="#0a0a0a" stroke-width="1.05" />
<line x1="495.70" y1="402.50" x2="508.40" y2="436.20" stroke="#0a0a0a" stroke-width="1.05" />
<circle cx="495.70" cy="374.80" r="2.0" fill="#17528a"/>
<circle cx="508.40" cy="385.60" r="2.0" fill="#c8162e"/>
<circle cx="495.70" cy="376.10" r="2.0" fill="#17528a"/>
<circle cx="508.40" cy="388.60" r="2.0" fill="#c8162e"/>
<circle cx="495.70" cy="394.90" r="2.0" fill="#17528a"/>
<circle cx="508.40" cy="427.60" r="2.0" fill="#c8162e"/>
<circle cx="495.70" cy="400.20" r="2.0" fill="#17528a"/>
<circle cx="508.40" cy="435.90" r="2.0" fill="#c8162e"/>
<circle cx="495.70" cy="402.50" r="2.0" fill="#17528a"/>
<circle cx="508.40" cy="436.20" r="2.0" fill="#c8162e"/>
<text transform="translate(498.10,470.40) rotate(-45)" font-size="8" text-anchor="end" textLength="24" lengthAdjust="spacingAndGlyphs" fill="#222"  class="r">A8/A9<tspan font-size="5" dy="-3">lo</tspan></text>
<text transform="translate(510.70,470.40) rotate(-45)" font-size="8" text-anchor="end" textLength="24" lengthAdjust="spacingAndGlyphs" fill="#222"  class="r">A8/A9<tspan font-size="5" dy="-3">hi</tspan></text>
<text transform="translate(452.45,412.50) rotate(-90)" font-size="9" text-anchor="middle" font-weight="bold" textLength="41" lengthAdjust="spacingAndGlyphs" fill="#222"  class="b">Bcl-2 [MdFI]</text>
</svg>
</body></html>
